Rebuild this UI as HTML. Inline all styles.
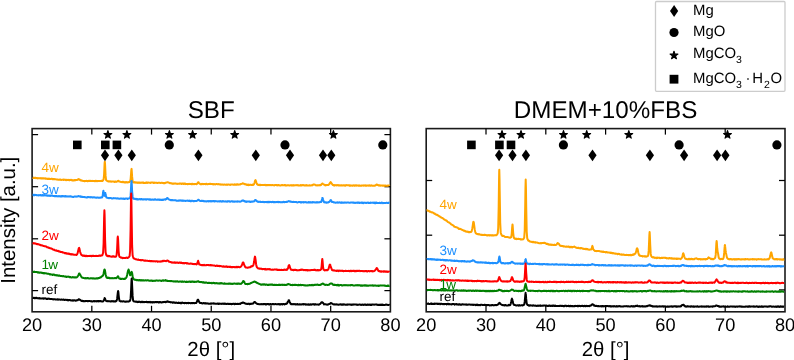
<!DOCTYPE html>
<html><head><meta charset="utf-8"><title>XRD</title><style>
html,body{margin:0;padding:0;background:#fff;}
body{width:794px;height:360px;overflow:hidden;}
svg{display:block;}
text{font-family:"Liberation Sans",Arial,sans-serif;fill:#000;text-rendering:geometricPrecision;}
.tk{font-size:18.2px;}
.ax{font-size:20.4px;}
.ti{font-size:24.2px;}
.lg{font-size:14.9px;}
.sub{font-size:10.5px;}
.cl{font-size:13.5px;}
</style></head><body>
<svg width="794" height="360" viewBox="0 0 794 360">
<rect width="794" height="360" fill="#fff"/>
<rect x="655.5" y="1.5" width="129.5" height="89.8" rx="1" fill="#fff" stroke="#cccccc" stroke-width="1.3"/>
<polygon points="674.10,5.10 678.20,11.00 674.10,16.90 670.00,11.00" fill="#000"/>
<circle cx="674.00" cy="32.50" r="4.60" fill="#000"/>
<polygon points="674.00,51.30 674.92,54.13 677.90,54.13 675.49,55.88 676.41,58.72 674.00,56.97 671.59,58.72 672.51,55.88 670.10,54.13 673.08,54.13" fill="#000" stroke="#000" stroke-width="1.2" stroke-linejoin="round"/>
<rect x="669.60" y="74.80" width="8.80" height="8.80" fill="#000"/>
<text x="693" y="14.8" class="lg">Mg</text>
<text x="693" y="35.7" class="lg">MgO</text>
<text x="693" y="58.0" class="lg">MgCO<tspan class="sub" dy="4.7">3</tspan></text>
<text x="693" y="82.9" class="lg">MgCO<tspan class="sub" dy="4.7">3</tspan></text>
<text x="745.4" y="82.9" class="lg">&#183;</text>
<text x="752.3" y="82.9" class="lg">H</text>
<text x="764.1" y="87.6" class="lg sub">2</text>
<text x="770.5" y="82.9" class="lg">O</text>
<text x="211.25" y="118" text-anchor="middle" class="ti">SBF</text>
<text x="605.60" y="118" text-anchor="middle" class="ti">DMEM+10%FBS</text>
<text transform="translate(14.7,220.2) rotate(-90)" text-anchor="middle" class="ax">Intensity [a.u.]</text>
<rect x="32.10" y="128.60" width="358.30" height="183.20" fill="none" stroke="#1a1a1a" stroke-width="1.6"/>
<line x1="91.82" y1="311.80" x2="91.82" y2="305.80" stroke="#000" stroke-width="1.25"/>
<line x1="91.82" y1="128.60" x2="91.82" y2="134.60" stroke="#000" stroke-width="1.25"/>
<line x1="151.53" y1="311.80" x2="151.53" y2="305.80" stroke="#000" stroke-width="1.25"/>
<line x1="151.53" y1="128.60" x2="151.53" y2="134.60" stroke="#000" stroke-width="1.25"/>
<line x1="211.25" y1="311.80" x2="211.25" y2="305.80" stroke="#000" stroke-width="1.25"/>
<line x1="211.25" y1="128.60" x2="211.25" y2="134.60" stroke="#000" stroke-width="1.25"/>
<line x1="270.97" y1="311.80" x2="270.97" y2="305.80" stroke="#000" stroke-width="1.25"/>
<line x1="270.97" y1="128.60" x2="270.97" y2="134.60" stroke="#000" stroke-width="1.25"/>
<line x1="330.68" y1="311.80" x2="330.68" y2="305.80" stroke="#000" stroke-width="1.25"/>
<line x1="330.68" y1="128.60" x2="330.68" y2="134.60" stroke="#000" stroke-width="1.25"/>
<line x1="32.10" y1="134.60" x2="38.10" y2="134.60" stroke="#000" stroke-width="1.25"/>
<line x1="390.40" y1="134.60" x2="384.40" y2="134.60" stroke="#000" stroke-width="1.25"/>
<line x1="32.10" y1="186.70" x2="38.10" y2="186.70" stroke="#000" stroke-width="1.25"/>
<line x1="390.40" y1="186.70" x2="384.40" y2="186.70" stroke="#000" stroke-width="1.25"/>
<line x1="32.10" y1="238.80" x2="38.10" y2="238.80" stroke="#000" stroke-width="1.25"/>
<line x1="390.40" y1="238.80" x2="384.40" y2="238.80" stroke="#000" stroke-width="1.25"/>
<line x1="32.10" y1="290.60" x2="38.10" y2="290.60" stroke="#000" stroke-width="1.25"/>
<line x1="390.40" y1="290.60" x2="384.40" y2="290.60" stroke="#000" stroke-width="1.25"/>
<text x="32.10" y="330.9" text-anchor="middle" class="tk">20</text>
<text x="91.82" y="330.9" text-anchor="middle" class="tk">30</text>
<text x="151.53" y="330.9" text-anchor="middle" class="tk">40</text>
<text x="211.25" y="330.9" text-anchor="middle" class="tk">50</text>
<text x="270.97" y="330.9" text-anchor="middle" class="tk">60</text>
<text x="330.68" y="330.9" text-anchor="middle" class="tk">70</text>
<text x="390.40" y="330.9" text-anchor="middle" class="tk">80</text>
<text x="211.25" y="356" text-anchor="middle" class="ax">2&#952; [&#176;]</text>
<rect x="426.20" y="128.60" width="358.80" height="183.20" fill="none" stroke="#1a1a1a" stroke-width="1.6"/>
<line x1="486.00" y1="311.80" x2="486.00" y2="305.80" stroke="#000" stroke-width="1.25"/>
<line x1="486.00" y1="128.60" x2="486.00" y2="134.60" stroke="#000" stroke-width="1.25"/>
<line x1="545.80" y1="311.80" x2="545.80" y2="305.80" stroke="#000" stroke-width="1.25"/>
<line x1="545.80" y1="128.60" x2="545.80" y2="134.60" stroke="#000" stroke-width="1.25"/>
<line x1="605.60" y1="311.80" x2="605.60" y2="305.80" stroke="#000" stroke-width="1.25"/>
<line x1="605.60" y1="128.60" x2="605.60" y2="134.60" stroke="#000" stroke-width="1.25"/>
<line x1="665.40" y1="311.80" x2="665.40" y2="305.80" stroke="#000" stroke-width="1.25"/>
<line x1="665.40" y1="128.60" x2="665.40" y2="134.60" stroke="#000" stroke-width="1.25"/>
<line x1="725.20" y1="311.80" x2="725.20" y2="305.80" stroke="#000" stroke-width="1.25"/>
<line x1="725.20" y1="128.60" x2="725.20" y2="134.60" stroke="#000" stroke-width="1.25"/>
<line x1="426.20" y1="180.50" x2="432.20" y2="180.50" stroke="#000" stroke-width="1.25"/>
<line x1="785.00" y1="180.50" x2="779.00" y2="180.50" stroke="#000" stroke-width="1.25"/>
<line x1="426.20" y1="235.20" x2="432.20" y2="235.20" stroke="#000" stroke-width="1.25"/>
<line x1="785.00" y1="235.20" x2="779.00" y2="235.20" stroke="#000" stroke-width="1.25"/>
<line x1="426.20" y1="289.90" x2="432.20" y2="289.90" stroke="#000" stroke-width="1.25"/>
<line x1="785.00" y1="289.90" x2="779.00" y2="289.90" stroke="#000" stroke-width="1.25"/>
<text x="426.20" y="330.9" text-anchor="middle" class="tk">20</text>
<text x="486.00" y="330.9" text-anchor="middle" class="tk">30</text>
<text x="545.80" y="330.9" text-anchor="middle" class="tk">40</text>
<text x="605.60" y="330.9" text-anchor="middle" class="tk">50</text>
<text x="665.40" y="330.9" text-anchor="middle" class="tk">60</text>
<text x="725.20" y="330.9" text-anchor="middle" class="tk">70</text>
<text x="785.00" y="330.9" text-anchor="middle" class="tk">80</text>
<text x="605.60" y="356" text-anchor="middle" class="ax">2&#952; [&#176;]</text>
<polyline points="32.60,177.6 33.10,177.9 33.60,177.8 34.10,178.0 34.60,178.0 35.10,177.7 35.60,177.7 36.10,178.2 36.60,177.9 37.10,177.9 37.60,178.4 38.10,178.1 38.60,178.3 39.10,178.2 39.60,178.3 40.10,178.0 40.60,178.3 41.10,178.5 41.60,178.3 42.10,178.5 42.60,178.5 43.10,178.1 43.60,178.6 44.10,178.5 44.60,178.4 45.10,178.2 45.60,178.8 46.10,178.6 46.60,178.7 47.10,178.9 47.60,178.8 48.10,179.0 48.60,178.7 49.10,179.0 49.60,178.8 50.10,179.1 50.60,179.1 51.10,178.7 51.60,178.8 52.10,178.8 52.60,179.3 53.10,179.1 53.60,179.2 54.10,179.0 54.60,179.2 55.10,179.2 55.60,179.2 56.10,179.4 56.60,179.4 57.10,179.6 57.60,179.5 58.10,179.7 58.60,179.7 59.10,179.8 59.60,179.7 60.10,179.4 60.60,179.8 61.10,179.9 61.60,179.9 62.10,179.7 62.60,179.8 63.10,179.6 63.60,180.0 64.10,179.8 64.60,179.7 65.10,179.6 65.60,180.1 66.10,180.2 66.60,179.7 67.10,180.1 67.60,179.9 68.10,179.8 68.60,179.9 69.10,180.2 69.60,180.3 70.10,179.8 70.60,180.1 71.10,179.8 71.60,180.3 72.10,180.0 72.60,180.4 73.10,180.5 73.60,180.2 74.10,180.5 74.60,180.1 75.10,180.0 75.60,180.3 76.10,179.9 76.60,179.9 77.10,179.9 77.60,179.8 78.10,179.3 78.60,179.0 79.10,179.5 79.60,179.4 80.10,180.1 80.60,180.4 81.10,180.3 81.60,180.5 82.10,180.7 82.60,180.8 83.10,180.9 83.60,180.9 84.10,181.0 84.60,181.2 85.10,181.0 85.60,180.9 86.10,181.1 86.60,180.8 87.10,180.9 87.60,181.3 88.10,181.0 88.60,181.0 89.10,180.7 89.60,181.0 90.10,181.1 90.60,180.7 91.10,181.1 91.60,181.1 92.10,180.8 92.60,181.1 93.10,181.0 93.60,181.1 94.10,180.9 94.60,181.2 95.10,181.2 95.60,180.8 96.10,180.8 96.60,181.1 97.10,181.3 97.60,180.9 98.10,181.0 98.60,181.1 99.10,180.9 99.60,180.9 100.10,180.9 100.60,180.9 101.10,181.0 101.60,180.8 102.10,180.8 102.60,180.9 103.10,180.2 103.60,179.5 104.10,174.3 104.55,164.2 104.60,163.2 104.80,161.7 105.05,164.2 105.10,165.2 105.60,175.9 106.10,180.1 106.60,180.5 107.10,180.9 107.60,181.1 108.10,181.4 108.60,181.3 109.10,181.6 109.60,181.2 110.10,181.3 110.60,181.6 111.10,181.7 111.60,181.5 112.10,181.4 112.60,181.4 113.10,181.6 113.60,181.5 114.10,181.8 114.60,181.9 115.10,181.5 115.60,181.6 116.10,181.9 116.60,181.7 117.10,181.6 117.60,181.1 118.10,180.8 118.60,181.0 119.10,181.6 119.60,181.6 120.10,181.7 120.60,181.9 121.10,181.9 121.60,181.9 122.10,182.3 122.60,181.8 123.10,181.8 123.60,182.3 124.10,182.3 124.60,182.4 125.10,182.1 125.60,182.4 126.10,182.4 126.60,182.0 127.10,182.3 127.60,182.4 128.10,182.3 128.60,182.2 129.10,182.0 129.60,181.9 130.10,181.4 130.60,179.3 131.10,173.1 131.25,170.6 131.50,169.0 131.60,168.9 131.75,171.0 132.10,176.4 132.60,181.2 133.10,182.2 133.60,182.5 134.10,182.4 134.60,182.1 135.10,182.6 135.60,182.3 136.10,182.4 136.60,182.7 137.10,182.6 137.60,182.5 138.10,182.9 138.60,182.7 139.10,182.5 139.60,182.5 140.10,182.9 140.60,182.6 141.10,182.8 141.60,182.6 142.10,182.5 142.60,182.7 143.10,182.9 143.60,182.5 144.10,182.9 144.60,183.0 145.10,182.9 145.60,182.9 146.10,182.4 146.60,182.8 147.10,183.0 147.60,182.5 148.10,182.6 148.60,182.6 149.10,182.8 149.60,182.7 150.10,182.8 150.60,182.9 151.10,182.5 151.60,182.5 152.10,182.6 152.60,182.6 153.10,182.5 153.60,183.1 154.10,183.0 154.60,182.6 155.10,182.8 155.60,182.7 156.10,182.7 156.60,182.8 157.10,182.9 157.60,182.9 158.10,182.8 158.60,182.7 159.10,182.8 159.60,182.7 160.10,182.9 160.60,183.0 161.10,182.9 161.60,182.7 162.10,182.8 162.60,182.9 163.10,183.1 163.60,183.2 164.10,182.9 164.60,183.2 165.10,183.0 165.60,182.8 166.10,182.6 166.60,182.4 167.10,182.4 167.60,182.2 168.10,182.5 168.60,182.6 169.10,182.7 169.60,183.1 170.10,183.3 170.60,183.0 171.10,183.3 171.60,183.3 172.10,183.7 172.60,183.7 173.10,183.4 173.60,183.8 174.10,183.7 174.60,183.4 175.10,183.6 175.60,183.4 176.10,183.8 176.60,183.7 177.10,183.9 177.60,183.8 178.10,183.8 178.60,183.8 179.10,183.7 179.60,183.5 180.10,183.8 180.60,183.4 181.10,183.5 181.60,183.9 182.10,183.5 182.60,183.5 183.10,183.6 183.60,184.0 184.10,183.6 184.60,183.5 185.10,184.1 185.60,183.6 186.10,184.1 186.60,184.0 187.10,184.1 187.60,184.2 188.10,184.0 188.60,184.1 189.10,183.7 189.60,184.1 190.10,184.0 190.60,184.1 191.10,183.8 191.60,184.2 192.10,184.3 192.60,183.8 193.10,183.9 193.60,184.1 194.10,184.3 194.60,183.9 195.10,183.9 195.60,183.9 196.10,184.1 196.60,184.2 197.10,183.8 197.60,183.2 198.10,182.2 198.60,182.3 199.10,183.4 199.60,183.6 200.10,184.0 200.60,184.3 201.10,184.0 201.60,184.2 202.10,183.8 202.60,184.1 203.10,184.2 203.60,184.1 204.10,184.0 204.60,184.0 205.10,184.1 205.60,184.3 206.10,183.8 206.60,183.8 207.10,184.2 207.60,184.3 208.10,184.0 208.60,184.0 209.10,184.1 209.60,183.8 210.10,183.9 210.60,183.8 211.10,184.1 211.60,183.9 212.10,183.9 212.60,184.2 213.10,184.4 213.60,184.0 214.10,184.3 214.60,184.1 215.10,184.4 215.60,184.3 216.10,184.1 216.60,184.1 217.10,184.0 217.60,184.3 218.10,184.2 218.60,184.1 219.10,184.3 219.60,184.3 220.10,184.6 220.60,184.2 221.10,184.7 221.60,184.4 222.10,184.5 222.60,184.5 223.10,184.7 223.60,184.7 224.10,184.6 224.60,184.6 225.10,184.7 225.60,184.8 226.10,184.5 226.60,184.7 227.10,184.9 227.60,184.6 228.10,184.4 228.60,184.4 229.10,184.7 229.60,184.7 230.10,184.9 230.60,184.8 231.10,184.4 231.60,184.4 232.10,184.4 232.60,184.4 233.10,184.7 233.60,184.8 234.10,184.8 234.60,184.4 235.10,184.8 235.60,184.5 236.10,184.5 236.60,184.7 237.10,184.3 237.60,184.3 238.10,184.8 238.60,184.4 239.10,184.4 239.60,184.5 240.10,184.5 240.60,184.0 241.10,184.1 241.60,183.9 242.10,183.7 242.60,183.3 243.10,183.4 243.60,183.8 244.10,183.8 244.60,184.2 245.10,184.1 245.60,184.4 246.10,184.7 246.60,184.5 247.10,185.0 247.60,185.0 248.10,184.5 248.60,185.1 249.10,184.7 249.60,185.0 250.10,185.0 250.60,184.7 251.10,184.9 251.60,184.9 252.10,185.0 252.60,184.6 253.10,184.9 253.60,184.8 254.10,184.0 254.60,182.6 255.10,180.6 255.25,180.4 255.50,180.1 255.60,180.3 255.75,180.6 256.10,181.6 256.60,183.0 257.10,184.3 257.60,184.7 258.10,184.6 258.60,185.1 259.10,185.0 259.60,184.7 260.10,185.2 260.60,184.8 261.10,184.9 261.60,185.1 262.10,185.1 262.60,185.1 263.10,185.1 263.60,185.0 264.10,185.0 264.60,184.9 265.10,184.8 265.60,185.2 266.10,185.2 266.60,185.1 267.10,185.2 267.60,185.0 268.10,185.0 268.60,185.0 269.10,185.3 269.60,184.9 270.10,185.1 270.60,185.0 271.10,185.3 271.60,185.1 272.10,185.0 272.60,185.1 273.10,185.2 273.60,185.3 274.10,185.1 274.60,185.4 275.10,184.9 275.60,185.0 276.10,184.9 276.60,185.0 277.10,185.4 277.60,185.3 278.10,185.0 278.60,185.0 279.10,185.2 279.60,185.4 280.10,185.4 280.60,185.4 281.10,185.3 281.60,185.0 282.10,185.2 282.60,185.1 283.10,185.3 283.60,185.3 284.10,185.1 284.60,185.1 285.10,185.4 285.60,185.0 286.10,185.4 286.60,185.5 287.10,185.5 287.60,185.2 288.10,185.3 288.60,185.3 289.10,185.4 289.60,185.6 290.10,185.4 290.60,185.2 291.10,185.5 291.60,185.3 292.10,185.4 292.60,185.4 293.10,185.0 293.60,185.5 294.10,185.4 294.60,185.3 295.10,185.3 295.60,185.3 296.10,185.1 296.60,185.3 297.10,185.0 297.60,185.3 298.10,185.4 298.60,185.3 299.10,185.4 299.60,185.6 300.10,185.5 300.60,185.1 301.10,185.5 301.60,185.4 302.10,185.0 302.60,185.2 303.10,185.2 303.60,185.1 304.10,185.3 304.60,185.6 305.10,185.2 305.60,185.5 306.10,185.4 306.60,185.1 307.10,185.5 307.60,185.4 308.10,185.6 308.60,185.5 309.10,185.5 309.60,185.2 310.10,185.5 310.60,185.6 311.10,185.5 311.60,185.2 312.10,185.4 312.60,185.1 313.10,184.7 313.60,184.4 314.10,184.4 314.60,184.6 315.10,184.8 315.60,185.2 316.10,185.4 316.60,185.3 317.10,185.3 317.60,185.4 318.10,185.2 318.60,185.3 319.10,185.4 319.60,185.2 320.10,185.0 320.60,185.3 321.10,184.9 321.60,184.1 322.10,183.6 322.60,183.6 323.10,184.0 323.60,184.3 324.10,184.6 324.60,184.9 325.10,185.4 325.60,185.0 326.10,185.2 326.60,185.1 327.10,185.1 327.60,185.0 328.10,185.1 328.60,184.8 329.10,184.3 329.60,183.6 330.10,182.7 330.45,182.4 330.60,182.0 330.70,182.0 330.95,182.4 331.10,182.5 331.60,183.6 332.10,184.0 332.60,184.8 333.10,185.1 333.60,184.9 334.10,185.6 334.60,185.1 335.10,185.1 335.60,185.3 336.10,185.1 336.60,185.4 337.10,185.3 337.60,185.1 338.10,185.1 338.60,185.5 339.10,185.2 339.60,185.6 340.10,185.4 340.60,185.6 341.10,185.3 341.60,185.2 342.10,185.3 342.60,185.6 343.10,185.5 343.60,185.3 344.10,185.2 344.60,185.5 345.10,185.7 345.60,185.5 346.10,185.1 346.60,185.2 347.10,185.2 347.60,185.2 348.10,185.2 348.60,185.2 349.10,185.5 349.60,185.7 350.10,185.3 350.60,185.7 351.10,185.4 351.60,185.6 352.10,185.7 352.60,185.7 353.10,185.2 353.60,185.4 354.10,185.5 354.60,185.8 355.10,185.2 355.60,185.4 356.10,185.7 356.60,185.3 357.10,185.4 357.60,185.4 358.10,185.6 358.60,185.8 359.10,185.3 359.60,185.7 360.10,185.7 360.60,185.7 361.10,185.6 361.60,185.8 362.10,185.4 362.60,185.5 363.10,185.4 363.60,185.7 364.10,185.5 364.60,185.4 365.10,185.3 365.60,185.7 366.10,185.6 366.60,185.7 367.10,185.5 367.60,185.6 368.10,185.4 368.60,185.7 369.10,185.3 369.60,185.5 370.10,185.7 370.60,185.7 371.10,185.3 371.60,185.4 372.10,185.8 372.60,185.7 373.10,185.8 373.60,185.8 374.10,185.5 374.60,185.8 375.10,185.6 375.60,185.2 376.10,185.0 376.60,184.5 377.10,184.6 377.60,185.1 378.10,185.0 378.60,185.5 379.10,185.3 379.60,185.3 380.10,185.7 380.60,185.5 381.10,185.4 381.60,185.4 382.10,185.7 382.60,185.7 383.10,185.4 383.60,185.5 384.10,185.9 384.60,185.5 385.10,185.7 385.60,185.6 386.10,185.8 386.60,185.7 387.10,185.9 387.60,185.7 388.10,185.5 388.60,185.5 389.10,185.4 389.60,185.9" fill="none" stroke="#FFA500" stroke-width="2.00" stroke-linejoin="round" stroke-linecap="butt"/>
<polyline points="32.60,194.8 33.10,194.7 33.60,195.3 34.10,194.9 34.60,195.3 35.10,194.8 35.60,195.1 36.10,194.9 36.60,195.3 37.10,195.2 37.60,195.2 38.10,195.3 38.60,195.4 39.10,195.1 39.60,195.3 40.10,195.2 40.60,195.0 41.10,195.5 41.60,195.3 42.10,195.5 42.60,195.1 43.10,195.4 43.60,195.3 44.10,195.5 44.60,195.1 45.10,195.3 45.60,195.4 46.10,195.2 46.60,195.5 47.10,195.7 47.60,195.5 48.10,195.7 48.60,195.7 49.10,195.4 49.60,195.6 50.10,196.0 50.60,195.6 51.10,195.7 51.60,195.5 52.10,195.6 52.60,195.6 53.10,196.1 53.60,196.0 54.10,196.1 54.60,196.2 55.10,196.0 55.60,196.2 56.10,196.0 56.60,196.0 57.10,196.3 57.60,196.3 58.10,196.4 58.60,196.1 59.10,196.3 59.60,196.1 60.10,196.5 60.60,196.5 61.10,196.1 61.60,196.5 62.10,196.1 62.60,196.0 63.10,196.4 63.60,196.2 64.10,196.3 64.60,196.4 65.10,196.1 65.60,196.5 66.10,196.3 66.60,196.4 67.10,196.3 67.60,196.6 68.10,196.6 68.60,196.4 69.10,196.3 69.60,196.4 70.10,196.5 70.60,196.3 71.10,196.4 71.60,196.7 72.10,196.7 72.60,196.9 73.10,196.9 73.60,196.9 74.10,196.6 74.60,196.4 75.10,196.5 75.60,196.6 76.10,196.7 76.60,196.6 77.10,196.4 77.60,196.6 78.10,196.1 78.60,196.1 79.10,196.3 79.60,196.4 80.10,196.3 80.60,196.5 81.10,197.0 81.60,196.6 82.10,196.8 82.60,197.0 83.10,197.1 83.60,196.9 84.10,196.9 84.60,197.0 85.10,197.3 85.60,197.2 86.10,197.5 86.60,197.4 87.10,197.5 87.60,197.0 88.10,197.1 88.60,197.0 89.10,197.3 89.60,197.2 90.10,197.1 90.60,197.4 91.10,197.1 91.60,197.3 92.10,197.3 92.60,197.6 93.10,197.4 93.60,197.3 94.10,197.2 94.60,197.5 95.10,197.6 95.60,197.6 96.10,197.8 96.60,197.7 97.10,197.4 97.60,197.4 98.10,197.8 98.60,197.8 99.10,197.6 99.60,197.8 100.10,197.7 100.60,197.5 101.10,197.4 101.60,197.3 102.10,197.4 102.60,196.4 103.10,192.5 103.15,191.9 103.40,190.8 103.60,191.7 103.65,192.0 104.10,195.4 104.60,195.9 105.05,193.8 105.10,193.4 105.30,193.0 105.55,194.1 105.60,194.5 106.10,196.8 106.60,197.6 107.10,197.7 107.60,197.9 108.10,198.1 108.60,198.0 109.10,198.3 109.60,197.9 110.10,198.0 110.60,198.1 111.10,198.1 111.60,198.4 112.10,198.4 112.60,198.5 113.10,198.3 113.60,198.0 114.10,198.3 114.60,198.3 115.10,198.3 115.60,198.2 116.10,198.5 116.60,198.6 117.10,198.2 117.60,198.5 118.10,198.4 118.60,198.5 119.10,198.7 119.60,198.8 120.10,198.6 120.60,198.4 121.10,198.8 121.60,198.4 122.10,198.5 122.60,198.8 123.10,198.5 123.60,198.5 124.10,199.0 124.60,199.0 125.10,198.6 125.60,198.7 126.10,198.6 126.60,198.5 127.10,198.6 127.60,199.0 128.10,198.5 128.60,198.5 129.10,198.4 129.60,198.2 130.10,198.0 130.60,195.4 131.10,186.6 131.25,183.4 131.50,180.9 131.60,180.9 131.75,183.2 132.10,191.0 132.60,196.7 133.10,198.2 133.60,198.7 134.10,198.7 134.60,199.0 135.10,198.8 135.60,198.9 136.10,199.4 136.60,198.9 137.10,199.4 137.60,199.0 138.10,199.5 138.60,199.3 139.10,199.3 139.60,199.0 140.10,199.0 140.60,199.4 141.10,199.1 141.60,199.1 142.10,199.5 142.60,199.6 143.10,199.1 143.60,199.6 144.10,199.4 144.60,199.3 145.10,199.2 145.60,199.3 146.10,199.7 146.60,199.3 147.10,199.2 147.60,199.2 148.10,199.2 148.60,199.4 149.10,199.7 149.60,199.2 150.10,199.3 150.60,199.8 151.10,199.8 151.60,199.8 152.10,199.4 152.60,199.5 153.10,199.8 153.60,199.6 154.10,199.7 154.60,199.5 155.10,199.3 155.60,199.5 156.10,199.8 156.60,199.8 157.10,199.7 157.60,199.6 158.10,199.7 158.60,199.6 159.10,199.7 159.60,199.9 160.10,199.5 160.60,199.8 161.10,200.0 161.60,199.9 162.10,199.6 162.60,200.0 163.10,200.0 163.60,199.6 164.10,199.6 164.60,199.5 165.10,199.3 165.60,199.6 166.10,199.0 166.60,198.9 167.10,198.1 167.60,198.0 168.10,198.7 168.60,199.1 169.10,199.6 169.60,199.7 170.10,199.9 170.60,200.2 171.10,199.9 171.60,200.2 172.10,200.2 172.60,200.0 173.10,200.3 173.60,200.2 174.10,200.3 174.60,200.3 175.10,200.3 175.60,200.3 176.10,200.5 176.60,200.7 177.10,200.7 177.60,200.7 178.10,200.7 178.60,200.4 179.10,200.8 179.60,200.4 180.10,200.3 180.60,200.6 181.10,200.7 181.60,200.5 182.10,200.7 182.60,200.5 183.10,200.9 183.60,200.6 184.10,200.7 184.60,200.7 185.10,200.9 185.60,201.0 186.10,200.7 186.60,200.7 187.10,200.8 187.60,200.5 188.10,200.7 188.60,201.0 189.10,201.0 189.60,200.6 190.10,201.1 190.60,200.8 191.10,201.2 191.60,200.8 192.10,200.7 192.60,200.9 193.10,201.2 193.60,200.9 194.10,201.2 194.60,201.1 195.10,200.9 195.60,200.9 196.10,201.0 196.60,200.9 197.10,200.7 197.60,200.4 198.10,199.8 198.60,199.7 199.10,200.3 199.60,200.7 200.10,200.9 200.60,201.1 201.10,200.8 201.60,200.8 202.10,201.0 202.60,201.0 203.10,200.8 203.60,201.1 204.10,201.4 204.60,201.2 205.10,201.3 205.60,201.3 206.10,201.4 206.60,201.4 207.10,201.1 207.60,201.3 208.10,201.0 208.60,201.4 209.10,201.1 209.60,201.2 210.10,201.5 210.60,201.1 211.10,201.1 211.60,201.4 212.10,201.3 212.60,201.0 213.10,201.0 213.60,201.2 214.10,201.0 214.60,201.5 215.10,201.1 215.60,201.2 216.10,201.2 216.60,201.3 217.10,201.3 217.60,201.4 218.10,201.4 218.60,201.3 219.10,201.1 219.60,201.6 220.10,201.5 220.60,201.1 221.10,201.3 221.60,201.5 222.10,201.7 222.60,201.1 223.10,201.1 223.60,201.4 224.10,201.4 224.60,201.6 225.10,201.6 225.60,201.3 226.10,201.4 226.60,201.5 227.10,201.7 227.60,201.3 228.10,201.4 228.60,201.2 229.10,201.5 229.60,201.2 230.10,201.7 230.60,201.5 231.10,201.5 231.60,201.2 232.10,201.3 232.60,201.5 233.10,201.7 233.60,201.5 234.10,201.4 234.60,201.8 235.10,201.6 235.60,201.5 236.10,201.4 236.60,201.4 237.10,201.8 237.60,201.3 238.10,201.6 238.60,201.6 239.10,201.4 239.60,201.7 240.10,201.7 240.60,201.6 241.10,201.4 241.60,200.9 242.10,200.6 242.60,200.7 243.10,200.5 243.60,200.6 244.10,201.2 244.60,201.0 245.10,201.6 245.60,201.8 246.10,201.4 246.60,201.9 247.10,201.6 247.60,201.5 248.10,201.5 248.60,201.4 249.10,201.7 249.60,201.6 250.10,201.9 250.60,201.9 251.10,201.5 251.60,201.7 252.10,201.7 252.60,201.5 253.10,201.5 253.60,201.4 254.10,201.4 254.60,200.7 255.10,200.0 255.60,199.9 256.10,200.4 256.60,201.1 257.10,201.3 257.60,201.8 258.10,201.6 258.60,201.9 259.10,201.9 259.60,201.7 260.10,202.0 260.60,201.8 261.10,201.9 261.60,202.0 262.10,202.0 262.60,201.9 263.10,201.7 263.60,202.1 264.10,202.2 264.60,202.0 265.10,202.0 265.60,201.9 266.10,202.2 266.60,202.1 267.10,201.8 267.60,202.2 268.10,202.3 268.60,201.9 269.10,202.3 269.60,202.0 270.10,201.8 270.60,202.1 271.10,201.9 271.60,202.2 272.10,202.1 272.60,201.8 273.10,202.0 273.60,202.2 274.10,202.0 274.60,202.1 275.10,202.3 275.60,202.0 276.10,202.0 276.60,202.1 277.10,202.2 277.60,201.9 278.10,201.8 278.60,202.2 279.10,202.1 279.60,201.9 280.10,202.3 280.60,202.3 281.10,202.1 281.60,202.3 282.10,202.3 282.60,202.2 283.10,201.9 283.60,201.8 284.10,202.2 284.60,202.2 285.10,201.9 285.60,202.0 286.10,202.0 286.60,201.8 287.10,201.9 287.60,201.7 288.10,201.4 288.60,201.1 289.10,201.3 289.60,201.3 290.10,201.7 290.60,201.5 291.10,201.8 291.60,201.8 292.10,202.0 292.60,202.1 293.10,201.9 293.60,201.8 294.10,202.1 294.60,201.9 295.10,202.1 295.60,201.9 296.10,201.9 296.60,202.2 297.10,202.4 297.60,202.4 298.10,202.2 298.60,202.1 299.10,201.9 299.60,202.1 300.10,202.1 300.60,202.5 301.10,202.0 301.60,202.5 302.10,202.2 302.60,202.2 303.10,202.1 303.60,202.5 304.10,202.0 304.60,202.3 305.10,202.3 305.60,202.1 306.10,202.1 306.60,202.6 307.10,202.4 307.60,202.4 308.10,202.5 308.60,202.0 309.10,202.4 309.60,202.4 310.10,202.1 310.60,202.3 311.10,202.6 311.60,202.2 312.10,202.5 312.60,202.1 313.10,202.4 313.60,202.2 314.10,202.3 314.60,202.3 315.10,202.6 315.60,202.5 316.10,202.3 316.60,202.5 317.10,202.3 317.60,202.5 318.10,202.2 318.60,202.4 319.10,202.4 319.60,202.2 320.10,202.0 320.60,202.0 321.10,202.1 321.60,200.9 322.10,199.0 322.25,198.1 322.50,197.9 322.60,197.9 322.75,198.3 323.10,199.7 323.60,201.3 324.10,202.2 324.60,202.4 325.10,202.6 325.60,202.2 326.10,202.2 326.60,202.7 327.10,202.5 327.60,202.4 328.10,202.5 328.60,202.0 329.10,202.0 329.60,201.6 330.10,200.9 330.60,200.1 331.10,200.3 331.60,201.3 332.10,202.1 332.60,202.0 333.10,202.1 333.60,202.2 334.10,202.6 334.60,202.4 335.10,202.5 335.60,202.8 336.10,202.6 336.60,202.4 337.10,202.7 337.60,202.3 338.10,202.4 338.60,202.7 339.10,202.4 339.60,202.3 340.10,202.6 340.60,202.5 341.10,202.9 341.60,202.4 342.10,202.8 342.60,202.5 343.10,202.8 343.60,202.6 344.10,202.7 344.60,202.5 345.10,202.5 345.60,202.6 346.10,202.8 346.60,202.6 347.10,202.5 347.60,202.6 348.10,202.4 348.60,202.6 349.10,202.7 349.60,202.7 350.10,202.7 350.60,202.6 351.10,202.4 351.60,202.4 352.10,202.6 352.60,202.5 353.10,202.7 353.60,202.6 354.10,202.9 354.60,202.8 355.10,202.8 355.60,202.9 356.10,202.7 356.60,202.7 357.10,202.6 357.60,202.5 358.10,202.9 358.60,202.7 359.10,202.5 359.60,203.0 360.10,202.8 360.60,202.8 361.10,202.7 361.60,202.5 362.10,203.1 362.60,202.6 363.10,202.7 363.60,203.1 364.10,202.6 364.60,202.8 365.10,202.8 365.60,202.7 366.10,203.1 366.60,202.8 367.10,202.5 367.60,202.8 368.10,202.5 368.60,203.0 369.10,203.1 369.60,203.1 370.10,202.6 370.60,202.9 371.10,202.7 371.60,202.8 372.10,202.7 372.60,202.7 373.10,202.6 373.60,202.9 374.10,202.6 374.60,203.2 375.10,202.6 375.60,203.2 376.10,202.7 376.60,202.6 377.10,203.0 377.60,202.9 378.10,203.1 378.60,202.9 379.10,203.0 379.60,202.7 380.10,203.0 380.60,202.9 381.10,203.2 381.60,202.6 382.10,202.7 382.60,203.0 383.10,203.2 383.60,202.9 384.10,203.1 384.60,203.0 385.10,202.9 385.60,202.9 386.10,203.0 386.60,202.7 387.10,202.9 387.60,203.1 388.10,202.8 388.60,203.0 389.10,202.8 389.60,202.9" fill="none" stroke="#1E90FF" stroke-width="2.00" stroke-linejoin="round" stroke-linecap="butt"/>
<polyline points="32.60,243.0 33.10,243.2 33.60,243.5 34.10,243.3 34.60,243.3 35.10,243.5 35.60,243.5 36.10,243.7 36.60,244.1 37.10,244.2 37.60,244.1 38.10,244.2 38.60,244.3 39.10,244.5 39.60,244.8 40.10,244.8 40.60,245.3 41.10,245.3 41.60,245.3 42.10,245.5 42.60,245.4 43.10,245.9 43.60,246.1 44.10,246.0 44.60,246.3 45.10,246.2 45.60,246.4 46.10,246.5 46.60,246.7 47.10,247.2 47.60,247.4 48.10,247.6 48.60,247.4 49.10,248.0 49.60,248.0 50.10,248.2 50.60,248.4 51.10,248.6 51.60,248.6 52.10,248.9 52.60,249.3 53.10,249.5 53.60,249.8 54.10,249.6 54.60,250.2 55.10,250.3 55.60,250.4 56.10,250.7 56.60,250.4 57.10,250.9 57.60,251.1 58.10,250.8 58.60,251.2 59.10,251.6 59.60,251.3 60.10,251.8 60.60,252.0 61.10,251.9 61.60,251.9 62.10,252.0 62.60,252.6 63.10,252.5 63.60,252.6 64.10,252.8 64.60,253.2 65.10,252.9 65.60,252.9 66.10,253.6 66.60,253.3 67.10,253.4 67.60,253.8 68.10,253.5 68.60,253.5 69.10,254.1 69.60,253.8 70.10,253.9 70.60,254.4 71.10,254.0 71.60,254.5 72.10,254.3 72.60,254.3 73.10,254.4 73.60,254.7 74.10,254.7 74.60,254.7 75.10,254.8 75.60,254.7 76.10,255.0 76.60,254.9 77.10,254.3 77.60,253.2 78.10,251.0 78.60,248.9 78.85,248.1 79.10,247.8 79.35,248.7 79.60,249.4 80.10,251.7 80.60,253.4 81.10,254.4 81.60,255.1 82.10,255.2 82.60,255.8 83.10,255.5 83.60,255.6 84.10,256.0 84.60,255.6 85.10,256.1 85.60,255.7 86.10,256.0 86.60,255.7 87.10,256.2 87.60,255.9 88.10,255.9 88.60,256.1 89.10,256.1 89.60,255.9 90.10,255.8 90.60,256.1 91.10,255.7 91.60,256.2 92.10,255.9 92.60,255.8 93.10,255.9 93.60,255.8 94.10,255.9 94.60,256.0 95.10,255.9 95.60,255.9 96.10,255.8 96.60,255.9 97.10,256.1 97.60,255.9 98.10,256.0 98.60,255.8 99.10,255.6 99.60,255.6 100.10,255.9 100.60,255.7 101.10,255.5 101.60,255.4 102.10,255.4 102.60,254.6 103.10,252.8 103.60,243.5 104.10,218.9 104.15,216.7 104.40,210.2 104.60,214.5 104.65,216.7 105.10,239.8 105.60,252.3 106.10,254.5 106.60,255.6 107.10,255.4 107.60,256.1 108.10,255.8 108.60,256.3 109.10,256.0 109.60,256.0 110.10,256.3 110.60,256.6 111.10,256.6 111.60,256.7 112.10,256.7 112.60,256.2 113.10,256.4 113.60,256.3 114.10,256.8 114.60,256.6 115.10,256.8 115.60,256.7 116.10,256.5 116.60,255.0 117.10,249.1 117.55,239.0 117.60,237.8 117.80,236.6 118.05,238.8 118.10,239.8 118.60,251.1 119.10,255.6 119.60,257.0 120.10,257.0 120.60,257.3 121.10,257.8 121.60,257.5 122.10,257.9 122.60,258.2 123.10,257.8 123.60,258.1 124.10,258.1 124.60,258.0 125.10,258.1 125.60,258.1 126.10,257.6 126.60,257.7 127.10,257.9 127.60,258.1 128.10,257.5 128.60,257.5 129.10,256.8 129.60,256.2 130.10,251.0 130.60,228.9 130.95,202.8 131.10,194.8 131.20,193.5 131.45,202.9 131.60,214.1 132.10,245.4 132.60,255.2 133.10,257.1 133.60,258.3 134.10,258.5 134.60,258.7 135.10,259.0 135.60,259.3 136.10,259.2 136.60,259.4 137.10,259.7 137.60,259.8 138.10,259.6 138.60,259.6 139.10,260.1 139.60,260.1 140.10,260.1 140.60,260.0 141.10,260.4 141.60,260.1 142.10,260.1 142.60,260.1 143.10,260.3 143.60,260.5 144.10,260.4 144.60,260.8 145.10,260.6 145.60,260.6 146.10,260.7 146.60,260.8 147.10,260.8 147.60,260.8 148.10,260.9 148.60,260.9 149.10,261.1 149.60,260.8 150.10,261.2 150.60,260.9 151.10,261.3 151.60,260.9 152.10,261.2 152.60,261.2 153.10,261.4 153.60,261.2 154.10,261.2 154.60,261.2 155.10,261.5 155.60,261.5 156.10,261.2 156.60,261.3 157.10,261.3 157.60,261.8 158.10,261.5 158.60,261.6 159.10,261.4 159.60,261.6 160.10,261.7 160.60,261.6 161.10,261.2 161.60,261.4 162.10,261.4 162.60,260.9 163.10,261.2 163.60,260.8 164.10,260.7 164.60,261.0 165.10,261.1 165.60,261.1 166.10,261.2 166.60,260.8 167.10,260.6 167.60,260.4 168.10,260.9 168.60,261.2 169.10,261.7 169.60,261.8 170.10,261.9 170.60,262.0 171.10,262.2 171.60,262.2 172.10,262.7 172.60,262.6 173.10,262.4 173.60,262.7 174.10,262.7 174.60,262.3 175.10,262.8 175.60,262.5 176.10,262.9 176.60,262.4 177.10,262.5 177.60,262.5 178.10,262.9 178.60,262.9 179.10,262.7 179.60,262.5 180.10,262.6 180.60,262.9 181.10,262.5 181.60,263.1 182.10,263.1 182.60,263.2 183.10,263.1 183.60,263.1 184.10,263.4 184.60,263.0 185.10,263.0 185.60,263.0 186.10,263.1 186.60,263.5 187.10,263.1 187.60,263.5 188.10,263.4 188.60,263.7 189.10,263.7 189.60,263.7 190.10,263.8 190.60,263.4 191.10,263.6 191.60,263.7 192.10,263.8 192.60,264.0 193.10,264.1 193.60,264.1 194.10,264.2 194.60,264.1 195.10,264.0 195.60,264.1 196.10,264.3 196.60,264.4 197.10,263.8 197.60,262.4 197.85,261.5 198.10,260.8 198.35,261.8 198.60,262.3 199.10,264.3 199.60,264.6 200.10,264.6 200.60,264.9 201.10,264.9 201.60,265.2 202.10,265.1 202.60,265.0 203.10,265.2 203.60,265.2 204.10,264.8 204.60,265.2 205.10,265.2 205.60,265.3 206.10,265.2 206.60,265.0 207.10,264.9 207.60,265.1 208.10,264.9 208.60,265.2 209.10,265.1 209.60,265.3 210.10,265.0 210.60,265.0 211.10,265.4 211.60,265.3 212.10,265.2 212.60,265.4 213.10,265.4 213.60,265.5 214.10,265.5 214.60,265.4 215.10,265.9 215.60,265.9 216.10,265.9 216.60,265.6 217.10,265.6 217.60,266.0 218.10,266.1 218.60,266.0 219.10,265.8 219.60,266.2 220.10,266.1 220.60,266.1 221.10,266.2 221.60,266.2 222.10,266.4 222.60,266.5 223.10,266.7 223.60,266.2 224.10,266.5 224.60,266.8 225.10,266.6 225.60,266.6 226.10,266.8 226.60,266.4 227.10,266.9 227.60,266.8 228.10,266.9 228.60,266.7 229.10,267.0 229.60,266.7 230.10,267.0 230.60,266.8 231.10,267.3 231.60,267.2 232.10,267.0 232.60,267.2 233.10,267.0 233.60,267.1 234.10,266.9 234.60,267.3 235.10,267.3 235.60,267.3 236.10,266.9 236.60,267.3 237.10,266.8 237.60,267.2 238.10,267.1 238.60,266.8 239.10,267.1 239.60,267.3 240.10,267.1 240.60,266.7 241.10,266.6 241.60,265.6 242.10,264.7 242.60,263.1 242.85,262.5 243.10,262.9 243.35,262.5 243.60,263.1 244.10,264.8 244.60,265.6 245.10,266.8 245.60,267.4 246.10,267.5 246.60,267.4 247.10,267.7 247.60,267.8 248.10,267.6 248.60,267.6 249.10,267.3 249.60,267.2 250.10,267.3 250.60,267.1 251.10,266.3 251.60,266.2 252.10,266.1 252.60,266.3 253.10,265.5 253.60,264.3 254.10,261.8 254.60,257.8 254.75,257.4 255.00,256.6 255.10,257.0 255.25,257.6 255.60,259.8 256.10,264.2 256.60,266.5 257.10,267.5 257.60,267.8 258.10,268.4 258.60,268.5 259.10,268.4 259.60,268.8 260.10,268.5 260.60,268.8 261.10,268.6 261.60,268.9 262.10,269.2 262.60,269.0 263.10,268.9 263.60,268.9 264.10,269.2 264.60,269.0 265.10,269.4 265.60,268.9 266.10,269.5 266.60,269.3 267.10,269.5 267.60,269.2 268.10,269.1 268.60,269.2 269.10,269.5 269.60,269.1 270.10,269.2 270.60,269.6 271.10,269.7 271.60,269.7 272.10,269.7 272.60,269.6 273.10,269.8 273.60,269.7 274.10,269.6 274.60,269.6 275.10,269.4 275.60,269.4 276.10,269.5 276.60,269.7 277.10,269.5 277.60,270.0 278.10,269.8 278.60,270.0 279.10,270.1 279.60,269.7 280.10,270.1 280.60,270.1 281.10,269.7 281.60,269.7 282.10,270.1 282.60,270.1 283.10,270.1 283.60,269.8 284.10,269.9 284.60,269.6 285.10,269.7 285.60,269.8 286.10,270.0 286.60,269.5 287.10,269.8 287.60,268.8 288.10,268.1 288.60,265.8 288.85,265.4 289.10,265.1 289.35,265.5 289.60,266.0 290.10,267.9 290.60,268.9 291.10,269.8 291.60,269.6 292.10,270.1 292.60,270.0 293.10,269.7 293.60,270.3 294.10,269.9 294.60,269.8 295.10,269.9 295.60,269.8 296.10,269.9 296.60,270.2 297.10,270.4 297.60,270.2 298.10,270.3 298.60,270.3 299.10,270.2 299.60,270.0 300.10,269.9 300.60,269.8 301.10,269.9 301.60,269.5 302.10,269.8 302.60,269.6 303.10,269.9 303.60,270.0 304.10,270.2 304.60,269.9 305.10,270.0 305.60,270.2 306.10,270.0 306.60,270.2 307.10,270.4 307.60,270.1 308.10,270.4 308.60,270.2 309.10,270.4 309.60,270.2 310.10,270.3 310.60,270.2 311.10,270.0 311.60,270.1 312.10,270.1 312.60,270.0 313.10,270.0 313.60,270.0 314.10,269.8 314.60,270.0 315.10,269.7 315.60,270.2 316.10,270.2 316.60,270.4 317.10,269.9 317.60,270.0 318.10,270.5 318.60,270.1 319.10,270.3 319.60,270.2 320.10,270.0 320.60,269.9 321.10,269.4 321.60,266.6 322.05,260.8 322.10,260.4 322.30,259.0 322.55,260.9 322.60,261.4 323.10,267.5 323.60,269.8 324.10,269.8 324.60,270.4 325.10,270.3 325.60,270.1 326.10,270.2 326.60,270.0 327.10,270.0 327.60,270.2 328.10,269.6 328.60,268.7 329.10,266.7 329.60,264.9 329.75,264.8 330.00,264.6 330.10,264.8 330.25,264.7 330.60,266.0 331.10,267.7 331.60,268.9 332.10,270.1 332.60,270.0 333.10,270.5 333.60,270.3 334.10,270.3 334.60,270.6 335.10,270.7 335.60,270.8 336.10,270.6 336.60,271.0 337.10,270.9 337.60,270.6 338.10,270.5 338.60,271.1 339.10,270.8 339.60,270.6 340.10,270.7 340.60,271.0 341.10,270.7 341.60,270.8 342.10,271.0 342.60,270.8 343.10,271.0 343.60,271.2 344.10,271.1 344.60,271.0 345.10,271.0 345.60,270.8 346.10,271.0 346.60,271.0 347.10,271.0 347.60,270.9 348.10,271.1 348.60,270.8 349.10,271.1 349.60,271.2 350.10,270.7 350.60,270.8 351.10,271.2 351.60,270.7 352.10,271.1 352.60,271.0 353.10,270.7 353.60,271.0 354.10,270.7 354.60,271.2 355.10,270.8 355.60,271.2 356.10,271.2 356.60,270.8 357.10,270.9 357.60,270.8 358.10,271.1 358.60,270.7 359.10,270.7 359.60,270.8 360.10,271.2 360.60,270.9 361.10,270.9 361.60,271.0 362.10,271.1 362.60,271.0 363.10,271.3 363.60,271.0 364.10,271.1 364.60,271.3 365.10,271.0 365.60,270.9 366.10,271.3 366.60,271.0 367.10,271.4 367.60,271.4 368.10,271.1 368.60,271.1 369.10,270.9 369.60,271.4 370.10,271.2 370.60,271.1 371.10,271.0 371.60,271.1 372.10,271.4 372.60,271.0 373.10,271.2 373.60,271.3 374.10,271.1 374.60,270.9 375.10,270.4 375.60,269.6 376.10,269.0 376.45,268.5 376.60,268.2 376.70,268.0 376.95,268.6 377.10,268.3 377.60,269.2 378.10,270.4 378.60,271.1 379.10,271.2 379.60,271.1 380.10,271.6 380.60,271.2 381.10,271.3 381.60,271.7 382.10,271.6 382.60,271.6 383.10,271.3 383.60,271.7 384.10,271.5 384.60,271.3 385.10,271.7 385.60,271.8 386.10,271.3 386.60,271.6 387.10,271.9 387.60,271.5 388.10,271.5 388.60,271.8 389.10,271.6 389.60,272.0" fill="none" stroke="#FF0000" stroke-width="2.00" stroke-linejoin="round" stroke-linecap="butt"/>
<polyline points="32.60,271.8 33.10,271.9 33.60,271.9 34.10,271.6 34.60,272.0 35.10,272.0 35.60,272.0 36.10,272.1 36.60,272.0 37.10,272.0 37.60,272.5 38.10,272.3 38.60,272.2 39.10,272.8 39.60,272.6 40.10,272.7 40.60,272.6 41.10,272.6 41.60,272.7 42.10,273.1 42.60,272.8 43.10,273.3 43.60,273.0 44.10,273.4 44.60,273.0 45.10,273.3 45.60,273.2 46.10,273.3 46.60,273.6 47.10,273.6 47.60,273.8 48.10,273.7 48.60,273.8 49.10,273.9 49.60,274.4 50.10,274.0 50.60,274.3 51.10,274.6 51.60,274.5 52.10,274.4 52.60,275.0 53.10,274.5 53.60,274.6 54.10,274.6 54.60,275.0 55.10,275.3 55.60,275.1 56.10,275.1 56.60,275.5 57.10,275.2 57.60,275.2 58.10,275.7 58.60,275.4 59.10,275.7 59.60,275.6 60.10,275.9 60.60,276.1 61.10,276.0 61.60,275.9 62.10,276.2 62.60,276.3 63.10,276.0 63.60,276.2 64.10,276.4 64.60,276.5 65.10,276.5 65.60,276.7 66.10,276.5 66.60,277.0 67.10,276.7 67.60,276.7 68.10,276.6 68.60,276.7 69.10,276.8 69.60,277.3 70.10,277.0 70.60,277.1 71.10,277.4 71.60,277.5 72.10,277.4 72.60,277.1 73.10,277.2 73.60,277.4 74.10,277.3 74.60,277.4 75.10,277.3 75.60,277.3 76.10,277.6 76.60,277.4 77.10,277.0 77.60,276.5 78.10,275.7 78.60,274.7 79.10,273.5 79.15,273.9 79.40,273.6 79.60,273.6 79.65,274.0 80.10,274.6 80.60,275.5 81.10,276.3 81.60,277.2 82.10,277.6 82.60,277.8 83.10,277.7 83.60,278.1 84.10,278.0 84.60,278.3 85.10,278.2 85.60,278.1 86.10,278.5 86.60,278.2 87.10,278.1 87.60,278.2 88.10,278.1 88.60,278.3 89.10,278.6 89.60,278.6 90.10,278.5 90.60,278.2 91.10,278.3 91.60,278.3 92.10,278.4 92.60,278.6 93.10,278.2 93.60,278.5 94.10,278.5 94.60,278.6 95.10,278.7 95.60,278.4 96.10,278.5 96.60,278.3 97.10,278.4 97.60,278.4 98.10,278.0 98.60,278.2 99.10,278.1 99.60,277.7 100.10,277.5 100.60,277.6 101.10,277.0 101.60,276.5 102.10,276.3 102.60,276.1 103.10,275.2 103.60,273.4 104.10,270.8 104.35,269.6 104.60,269.5 104.85,270.1 105.10,271.1 105.60,274.4 106.10,276.3 106.60,277.6 107.10,277.9 107.60,277.6 108.10,278.0 108.60,277.8 109.10,277.7 109.60,278.2 110.10,278.2 110.60,278.2 111.10,278.1 111.60,278.3 112.10,278.1 112.60,278.2 113.10,278.2 113.60,278.3 114.10,278.3 114.60,278.0 115.10,277.9 115.60,278.2 116.10,278.2 116.60,278.0 117.10,277.7 117.60,276.5 118.10,276.2 118.60,277.4 119.10,278.4 119.60,278.4 120.10,278.9 120.60,278.5 121.10,279.1 121.60,278.9 122.10,278.8 122.60,278.7 123.10,279.0 123.60,278.9 124.10,279.0 124.60,278.5 125.10,278.9 125.60,278.4 126.10,277.8 126.60,276.9 127.10,275.0 127.60,272.6 128.10,270.4 128.25,270.1 128.50,269.5 128.60,269.7 128.75,270.3 129.10,271.0 129.60,273.2 130.10,275.2 130.60,275.0 131.10,273.5 131.45,272.3 131.60,272.2 131.70,271.9 131.95,272.7 132.10,272.9 132.60,276.2 133.10,277.9 133.60,279.2 134.10,279.4 134.60,279.8 135.10,279.7 135.60,279.9 136.10,279.8 136.60,280.2 137.10,280.2 137.60,279.9 138.10,280.2 138.60,280.4 139.10,280.0 139.60,280.0 140.10,280.5 140.60,280.5 141.10,280.0 141.60,280.4 142.10,280.5 142.60,280.2 143.10,280.5 143.60,280.2 144.10,280.5 144.60,280.4 145.10,280.4 145.60,280.2 146.10,280.5 146.60,280.6 147.10,280.3 147.60,280.2 148.10,280.3 148.60,280.4 149.10,280.8 149.60,280.7 150.10,280.8 150.60,280.7 151.10,280.4 151.60,280.5 152.10,280.9 152.60,280.8 153.10,280.9 153.60,280.8 154.10,280.8 154.60,280.8 155.10,280.9 155.60,280.6 156.10,280.4 156.60,280.6 157.10,280.4 157.60,280.6 158.10,280.8 158.60,280.6 159.10,280.6 159.60,280.5 160.10,280.6 160.60,280.7 161.10,280.8 161.60,281.0 162.10,280.4 162.60,280.5 163.10,280.3 163.60,280.8 164.10,280.5 164.60,280.4 165.10,280.5 165.60,280.1 166.10,280.8 166.60,280.6 167.10,280.9 167.60,280.8 168.10,281.1 168.60,280.9 169.10,280.9 169.60,280.9 170.10,281.2 170.60,281.1 171.10,281.0 171.60,281.1 172.10,281.3 172.60,281.2 173.10,281.3 173.60,281.5 174.10,281.4 174.60,281.5 175.10,281.2 175.60,281.6 176.10,281.7 176.60,281.4 177.10,281.2 177.60,281.2 178.10,281.7 178.60,281.7 179.10,281.7 179.60,281.6 180.10,281.6 180.60,281.4 181.10,281.7 181.60,281.9 182.10,281.4 182.60,281.7 183.10,281.9 183.60,281.7 184.10,281.6 184.60,281.5 185.10,281.8 185.60,281.9 186.10,281.9 186.60,281.6 187.10,281.9 187.60,281.9 188.10,281.7 188.60,281.9 189.10,281.7 189.60,281.6 190.10,281.5 190.60,281.9 191.10,281.9 191.60,281.5 192.10,281.5 192.60,281.7 193.10,281.6 193.60,281.9 194.10,281.6 194.60,281.9 195.10,281.9 195.60,281.7 196.10,282.0 196.60,281.7 197.10,281.5 197.60,281.5 198.10,281.2 198.60,281.3 199.10,282.0 199.60,282.1 200.10,282.0 200.60,282.1 201.10,282.2 201.60,282.1 202.10,282.0 202.60,282.3 203.10,282.6 203.60,282.1 204.10,282.7 204.60,282.4 205.10,282.8 205.60,282.7 206.10,282.4 206.60,282.4 207.10,282.9 207.60,283.0 208.10,282.9 208.60,282.8 209.10,282.8 209.60,283.0 210.10,283.1 210.60,283.1 211.10,282.8 211.60,283.2 212.10,283.3 212.60,283.1 213.10,282.7 213.60,282.9 214.10,283.2 214.60,283.1 215.10,283.4 215.60,283.2 216.10,283.3 216.60,283.0 217.10,283.2 217.60,283.4 218.10,283.5 218.60,283.5 219.10,283.2 219.60,283.3 220.10,283.6 220.60,283.1 221.10,283.1 221.60,283.2 222.10,283.6 222.60,283.4 223.10,283.6 223.60,283.7 224.10,283.7 224.60,283.3 225.10,283.7 225.60,283.8 226.10,283.7 226.60,283.8 227.10,283.8 227.60,283.7 228.10,283.9 228.60,283.7 229.10,283.4 229.60,283.5 230.10,283.9 230.60,283.6 231.10,283.7 231.60,283.9 232.10,283.8 232.60,283.9 233.10,283.7 233.60,283.7 234.10,283.5 234.60,283.6 235.10,283.6 235.60,283.8 236.10,283.8 236.60,283.5 237.10,283.9 237.60,283.5 238.10,283.7 238.60,283.5 239.10,283.8 239.60,283.6 240.10,284.0 240.60,283.7 241.10,283.9 241.60,283.4 242.10,282.8 242.60,282.3 243.10,281.2 243.25,281.1 243.50,281.1 243.60,281.3 243.75,281.3 244.10,281.4 244.60,282.6 245.10,283.7 245.60,284.1 246.10,284.0 246.60,283.9 247.10,284.0 247.60,284.2 248.10,283.8 248.60,284.1 249.10,283.7 249.60,283.8 250.10,283.6 250.60,283.1 251.10,283.1 251.60,282.9 252.10,282.4 252.60,282.3 253.10,282.1 253.60,282.1 254.10,281.6 254.60,281.5 255.10,281.8 255.60,282.0 256.10,282.2 256.60,282.8 257.10,282.7 257.60,283.2 258.10,283.5 258.60,283.5 259.10,283.9 259.60,284.1 260.10,284.2 260.60,284.5 261.10,284.7 261.60,284.7 262.10,284.3 262.60,284.4 263.10,284.8 263.60,284.3 264.10,284.3 264.60,284.3 265.10,284.9 265.60,284.6 266.10,284.6 266.60,284.4 267.10,284.9 267.60,285.0 268.10,284.8 268.60,285.0 269.10,284.8 269.60,284.6 270.10,284.6 270.60,284.7 271.10,284.6 271.60,284.7 272.10,284.5 272.60,284.5 273.10,285.1 273.60,285.1 274.10,285.0 274.60,284.8 275.10,284.8 275.60,284.9 276.10,285.1 276.60,284.8 277.10,284.9 277.60,284.9 278.10,285.1 278.60,284.8 279.10,284.6 279.60,284.8 280.10,285.1 280.60,284.7 281.10,285.0 281.60,284.7 282.10,284.8 282.60,285.0 283.10,284.7 283.60,284.9 284.10,285.0 284.60,284.8 285.10,285.0 285.60,285.1 286.10,284.7 286.60,284.9 287.10,284.7 287.60,284.3 288.10,284.1 288.60,284.0 289.10,284.3 289.60,284.5 290.10,284.5 290.60,284.9 291.10,285.0 291.60,284.9 292.10,285.2 292.60,284.8 293.10,285.0 293.60,285.0 294.10,285.0 294.60,284.8 295.10,285.1 295.60,284.7 296.10,285.0 296.60,284.9 297.10,285.1 297.60,285.2 298.10,285.3 298.60,284.8 299.10,285.2 299.60,285.0 300.10,285.0 300.60,284.8 301.10,285.3 301.60,285.0 302.10,285.0 302.60,285.1 303.10,285.1 303.60,285.2 304.10,285.2 304.60,285.4 305.10,285.3 305.60,285.5 306.10,285.6 306.60,285.6 307.10,285.2 307.60,285.4 308.10,285.4 308.60,285.3 309.10,285.1 309.60,285.0 310.10,285.3 310.60,285.2 311.10,285.0 311.60,285.2 312.10,284.8 312.60,285.2 313.10,285.2 313.60,285.2 314.10,284.7 314.60,285.0 315.10,285.0 315.60,284.7 316.10,284.9 316.60,284.7 317.10,284.7 317.60,284.6 318.10,284.7 318.60,285.1 319.10,284.9 319.60,285.0 320.10,285.0 320.60,284.4 321.10,284.6 321.60,284.3 322.10,283.8 322.60,283.5 323.10,283.6 323.60,284.1 324.10,284.4 324.60,284.5 325.10,284.9 325.60,284.9 326.10,284.7 326.60,284.7 327.10,284.9 327.60,285.0 328.10,284.9 328.60,284.7 329.10,284.7 329.60,284.3 330.10,283.7 330.60,283.6 331.10,283.5 331.60,283.5 332.10,283.7 332.60,284.2 333.10,284.7 333.60,284.9 334.10,284.8 334.60,285.0 335.10,284.7 335.60,285.1 336.10,285.0 336.60,285.2 337.10,285.3 337.60,284.8 338.10,285.4 338.60,284.9 339.10,285.4 339.60,285.4 340.10,284.9 340.60,285.0 341.10,284.9 341.60,285.4 342.10,285.3 342.60,285.4 343.10,285.3 343.60,285.1 344.10,285.3 344.60,285.1 345.10,285.1 345.60,285.2 346.10,285.3 346.60,285.1 347.10,285.3 347.60,285.3 348.10,285.4 348.60,285.2 349.10,285.2 349.60,285.3 350.10,285.2 350.60,285.4 351.10,285.0 351.60,285.1 352.10,285.0 352.60,285.2 353.10,285.5 353.60,285.4 354.10,285.4 354.60,285.6 355.10,285.5 355.60,285.2 356.10,285.2 356.60,285.4 357.10,285.2 357.60,285.4 358.10,285.1 358.60,285.3 359.10,285.5 359.60,285.2 360.10,285.2 360.60,285.6 361.10,285.2 361.60,285.7 362.10,285.5 362.60,285.7 363.10,285.5 363.60,285.4 364.10,285.3 364.60,285.2 365.10,285.7 365.60,285.3 366.10,285.2 366.60,285.7 367.10,285.5 367.60,285.5 368.10,285.8 368.60,285.7 369.10,285.4 369.60,285.4 370.10,285.6 370.60,285.6 371.10,285.4 371.60,285.4 372.10,285.6 372.60,285.3 373.10,285.8 373.60,285.7 374.10,285.4 374.60,285.6 375.10,285.7 375.60,285.4 376.10,285.6 376.60,285.8 377.10,285.6 377.60,285.8 378.10,285.5 378.60,285.9 379.10,285.8 379.60,285.7 380.10,285.4 380.60,285.6 381.10,285.4 381.60,285.6 382.10,285.5 382.60,285.5 383.10,285.6 383.60,285.5 384.10,285.6 384.60,285.7 385.10,285.5 385.60,285.8 386.10,286.0 386.60,285.9 387.10,286.0 387.60,285.5 388.10,285.9 388.60,285.6 389.10,286.0 389.60,285.8" fill="none" stroke="#008000" stroke-width="2.00" stroke-linejoin="round" stroke-linecap="butt"/>
<polyline points="32.60,298.0 33.10,298.1 33.60,297.7 34.10,297.7 34.60,298.2 35.10,298.2 35.60,298.0 36.10,297.8 36.60,297.8 37.10,298.3 37.60,298.3 38.10,298.1 38.60,298.3 39.10,298.5 39.60,298.0 40.10,298.5 40.60,298.6 41.10,298.6 41.60,298.6 42.10,298.4 42.60,298.5 43.10,298.3 43.60,298.7 44.10,298.6 44.60,298.5 45.10,298.3 45.60,298.4 46.10,298.6 46.60,299.0 47.10,298.7 47.60,299.0 48.10,298.6 48.60,298.7 49.10,298.7 49.60,298.8 50.10,299.1 50.60,298.9 51.10,298.9 51.60,299.1 52.10,299.0 52.60,299.3 53.10,299.3 53.60,299.4 54.10,299.2 54.60,299.2 55.10,299.2 55.60,299.6 56.10,299.6 56.60,299.4 57.10,299.4 57.60,299.2 58.10,299.7 58.60,299.6 59.10,299.5 59.60,299.4 60.10,299.6 60.60,299.8 61.10,299.5 61.60,299.6 62.10,299.7 62.60,299.8 63.10,299.5 63.60,299.6 64.10,299.8 64.60,300.0 65.10,299.9 65.60,299.7 66.10,299.8 66.60,299.9 67.10,300.2 67.60,299.9 68.10,300.4 68.60,300.0 69.10,300.0 69.60,299.9 70.10,300.3 70.60,300.3 71.10,300.5 71.60,300.5 72.10,300.4 72.60,300.2 73.10,300.7 73.60,300.3 74.10,300.3 74.60,300.3 75.10,300.6 75.60,300.7 76.10,300.5 76.60,300.4 77.10,300.1 77.60,300.3 78.10,300.0 78.60,299.3 79.10,299.2 79.60,299.6 80.10,300.0 80.60,300.0 81.10,300.8 81.60,300.9 82.10,301.0 82.60,300.8 83.10,301.2 83.60,301.0 84.10,301.1 84.60,301.3 85.10,301.3 85.60,300.9 86.10,300.9 86.60,300.9 87.10,300.9 87.60,301.3 88.10,301.2 88.60,301.1 89.10,301.1 89.60,301.1 90.10,301.1 90.60,301.3 91.10,301.1 91.60,301.4 92.10,301.4 92.60,301.4 93.10,301.3 93.60,301.0 94.10,301.2 94.60,301.4 95.10,301.1 95.60,301.3 96.10,301.1 96.60,301.4 97.10,301.1 97.60,301.2 98.10,301.4 98.60,301.0 99.10,301.0 99.60,301.2 100.10,301.2 100.60,301.0 101.10,301.2 101.60,301.4 102.10,301.5 102.60,301.5 103.10,301.3 103.60,300.6 104.10,299.8 104.55,298.5 104.60,298.1 104.80,298.3 105.05,298.4 105.10,298.8 105.60,300.3 106.10,300.9 106.60,301.1 107.10,301.3 107.60,301.1 108.10,301.0 108.60,301.3 109.10,301.2 109.60,301.2 110.10,301.5 110.60,301.5 111.10,301.3 111.60,301.1 112.10,301.5 112.60,301.2 113.10,301.1 113.60,301.5 114.10,301.6 114.60,301.2 115.10,301.3 115.60,301.5 116.10,301.1 116.60,300.7 117.10,298.9 117.60,294.4 117.85,292.3 118.10,291.1 118.35,291.9 118.60,294.8 119.10,299.0 119.60,300.9 120.10,301.1 120.60,301.4 121.10,301.4 121.60,301.2 122.10,301.5 122.60,301.6 123.10,301.2 123.60,301.2 124.10,301.4 124.60,301.6 125.10,301.8 125.60,301.5 126.10,301.7 126.60,301.6 127.10,301.4 127.60,301.4 128.10,301.7 128.60,301.4 129.10,301.3 129.60,301.2 130.10,300.4 130.60,298.4 131.10,290.2 131.45,281.5 131.60,279.2 131.70,278.4 131.95,281.5 132.10,285.1 132.60,295.9 133.10,300.4 133.60,301.3 134.10,301.4 134.60,301.5 135.10,301.5 135.60,301.7 136.10,301.7 136.60,301.6 137.10,302.1 137.60,301.8 138.10,301.7 138.60,302.0 139.10,301.6 139.60,301.8 140.10,302.0 140.60,302.2 141.10,301.9 141.60,301.7 142.10,302.3 142.60,301.7 143.10,302.0 143.60,302.0 144.10,302.3 144.60,301.9 145.10,301.9 145.60,301.9 146.10,302.0 146.60,301.8 147.10,302.3 147.60,302.1 148.10,302.2 148.60,302.0 149.10,302.2 149.60,302.3 150.10,301.9 150.60,302.4 151.10,302.0 151.60,302.3 152.10,302.4 152.60,302.1 153.10,302.4 153.60,302.1 154.10,302.1 154.60,302.4 155.10,302.2 155.60,301.9 156.10,302.0 156.60,302.2 157.10,302.1 157.60,301.9 158.10,302.4 158.60,302.1 159.10,302.5 159.60,302.1 160.10,302.0 160.60,302.2 161.10,302.4 161.60,302.5 162.10,302.3 162.60,302.1 163.10,302.2 163.60,302.1 164.10,302.1 164.60,301.9 165.10,301.8 165.60,302.3 166.10,302.1 166.60,301.6 167.10,301.8 167.60,301.3 168.10,301.8 168.60,301.8 169.10,302.0 169.60,301.9 170.10,302.1 170.60,302.4 171.10,302.2 171.60,302.2 172.10,302.3 172.60,302.8 173.10,302.4 173.60,302.3 174.10,302.7 174.60,302.4 175.10,302.6 175.60,302.9 176.10,302.6 176.60,302.7 177.10,303.0 177.60,303.0 178.10,303.0 178.60,302.6 179.10,303.1 179.60,302.9 180.10,302.7 180.60,303.2 181.10,302.7 181.60,303.2 182.10,302.6 182.60,302.7 183.10,302.9 183.60,303.0 184.10,303.0 184.60,303.2 185.10,302.8 185.60,303.1 186.10,302.9 186.60,303.3 187.10,303.1 187.60,303.1 188.10,302.8 188.60,303.3 189.10,302.9 189.60,302.9 190.10,303.0 190.60,303.3 191.10,303.0 191.60,303.1 192.10,303.2 192.60,303.0 193.10,302.9 193.60,303.1 194.10,303.2 194.60,303.2 195.10,302.9 195.60,303.1 196.10,303.0 196.60,302.4 197.10,301.1 197.60,299.9 197.75,300.2 198.00,299.9 198.10,299.7 198.25,300.1 198.60,300.6 199.10,301.8 199.60,302.5 200.10,303.1 200.60,303.1 201.10,303.1 201.60,303.1 202.10,303.4 202.60,303.5 203.10,303.2 203.60,303.1 204.10,303.2 204.60,303.5 205.10,303.3 205.60,303.1 206.10,303.6 206.60,303.4 207.10,303.2 207.60,303.6 208.10,303.5 208.60,303.7 209.10,303.7 209.60,303.7 210.10,303.7 210.60,303.4 211.10,303.7 211.60,303.5 212.10,303.6 212.60,303.4 213.10,303.6 213.60,303.3 214.10,303.8 214.60,303.4 215.10,303.6 215.60,303.8 216.10,303.8 216.60,303.8 217.10,303.6 217.60,303.4 218.10,303.9 218.60,303.5 219.10,303.9 219.60,303.6 220.10,303.7 220.60,303.7 221.10,303.7 221.60,303.9 222.10,303.8 222.60,303.5 223.10,303.8 223.60,303.5 224.10,304.0 224.60,303.6 225.10,303.7 225.60,303.9 226.10,303.7 226.60,304.1 227.10,304.0 227.60,303.7 228.10,303.8 228.60,304.0 229.10,303.9 229.60,304.0 230.10,303.8 230.60,303.9 231.10,304.0 231.60,304.2 232.10,303.8 232.60,304.1 233.10,303.8 233.60,303.8 234.10,303.8 234.60,304.2 235.10,303.7 235.60,303.8 236.10,304.0 236.60,304.1 237.10,304.1 237.60,303.7 238.10,303.9 238.60,304.1 239.10,303.7 239.60,303.7 240.10,304.0 240.60,303.4 241.10,303.2 241.60,303.0 242.10,303.0 242.60,302.4 243.10,302.4 243.60,302.6 244.10,303.2 244.60,303.0 245.10,303.4 245.60,303.7 246.10,304.0 246.60,303.7 247.10,303.9 247.60,304.0 248.10,303.7 248.60,303.9 249.10,303.7 249.60,304.3 250.10,303.7 250.60,303.8 251.10,304.0 251.60,303.7 252.10,303.8 252.60,303.5 253.10,303.6 253.60,302.9 254.10,302.3 254.60,301.9 255.10,302.2 255.60,302.7 256.10,303.1 256.60,303.5 257.10,303.7 257.60,304.1 258.10,303.9 258.60,304.1 259.10,304.3 259.60,304.3 260.10,304.1 260.60,304.3 261.10,304.3 261.60,304.0 262.10,304.1 262.60,304.3 263.10,304.1 263.60,304.1 264.10,304.2 264.60,303.9 265.10,304.0 265.60,304.5 266.10,304.0 266.60,304.4 267.10,303.9 267.60,304.1 268.10,304.2 268.60,304.1 269.10,304.5 269.60,304.5 270.10,304.1 270.60,304.0 271.10,304.5 271.60,304.4 272.10,304.2 272.60,304.0 273.10,303.9 273.60,304.3 274.10,304.3 274.60,304.2 275.10,304.1 275.60,304.1 276.10,304.2 276.60,304.2 277.10,304.3 277.60,304.2 278.10,304.1 278.60,304.1 279.10,304.3 279.60,304.5 280.10,304.1 280.60,304.4 281.10,304.3 281.60,304.1 282.10,304.0 282.60,304.4 283.10,304.0 283.60,304.0 284.10,304.0 284.60,304.4 285.10,304.1 285.60,303.8 286.10,303.9 286.60,303.8 287.10,303.3 287.60,302.1 288.10,301.3 288.45,300.6 288.60,300.2 288.70,300.2 288.95,300.3 289.10,300.4 289.60,301.9 290.10,302.8 290.60,303.8 291.10,304.2 291.60,304.0 292.10,304.1 292.60,304.2 293.10,304.3 293.60,304.0 294.10,304.2 294.60,304.2 295.10,304.1 295.60,304.5 296.10,304.5 296.60,304.3 297.10,304.1 297.60,304.5 298.10,304.3 298.60,304.6 299.10,304.5 299.60,304.2 300.10,304.5 300.60,304.4 301.10,304.3 301.60,304.6 302.10,304.3 302.60,304.2 303.10,304.1 303.60,304.5 304.10,304.3 304.60,304.2 305.10,304.1 305.60,304.6 306.10,304.3 306.60,304.6 307.10,304.7 307.60,304.6 308.10,304.3 308.60,304.7 309.10,304.5 309.60,304.6 310.10,304.7 310.60,304.3 311.10,304.4 311.60,304.7 312.10,304.3 312.60,304.2 313.10,304.2 313.60,304.5 314.10,304.3 314.60,304.7 315.10,304.1 315.60,304.4 316.10,304.6 316.60,304.5 317.10,304.6 317.60,304.5 318.10,304.6 318.60,304.7 319.10,304.5 319.60,304.3 320.10,303.9 320.60,303.5 321.10,302.7 321.60,302.2 322.10,302.2 322.60,302.5 323.10,303.1 323.60,303.5 324.10,304.4 324.60,304.2 325.10,304.3 325.60,304.3 326.10,304.4 326.60,304.6 327.10,304.7 327.60,304.5 328.10,304.6 328.60,304.2 329.10,304.1 329.60,303.8 330.10,303.8 330.60,302.9 331.10,302.9 331.60,303.4 332.10,303.5 332.60,303.8 333.10,304.2 333.60,304.4 334.10,304.4 334.60,304.3 335.10,304.4 335.60,304.4 336.10,304.3 336.60,304.5 337.10,304.4 337.60,304.4 338.10,304.8 338.60,304.8 339.10,304.5 339.60,304.6 340.10,304.3 340.60,304.3 341.10,304.6 341.60,304.8 342.10,304.3 342.60,304.6 343.10,304.8 343.60,304.3 344.10,304.6 344.60,304.4 345.10,304.7 345.60,304.8 346.10,304.8 346.60,304.8 347.10,304.4 347.60,304.7 348.10,304.6 348.60,304.5 349.10,304.4 349.60,304.6 350.10,304.6 350.60,304.6 351.10,304.9 351.60,304.5 352.10,304.8 352.60,304.4 353.10,304.7 353.60,304.6 354.10,304.6 354.60,304.6 355.10,304.4 355.60,304.5 356.10,304.6 356.60,304.5 357.10,304.9 357.60,304.8 358.10,304.7 358.60,304.8 359.10,304.5 359.60,304.4 360.10,304.4 360.60,304.9 361.10,304.7 361.60,305.0 362.10,304.6 362.60,304.6 363.10,304.8 363.60,304.9 364.10,304.6 364.60,304.7 365.10,304.6 365.60,304.5 366.10,304.9 366.60,304.9 367.10,304.7 367.60,304.5 368.10,304.9 368.60,304.7 369.10,304.9 369.60,304.7 370.10,304.5 370.60,304.9 371.10,304.5 371.60,305.0 372.10,304.5 372.60,304.6 373.10,304.4 373.60,304.6 374.10,304.8 374.60,304.5 375.10,304.5 375.60,304.5 376.10,304.4 376.60,304.7 377.10,304.6 377.60,304.9 378.10,304.9 378.60,304.8 379.10,305.0 379.60,305.0 380.10,304.6 380.60,304.9 381.10,304.9 381.60,304.6 382.10,304.9 382.60,304.5 383.10,304.9 383.60,305.0 384.10,304.9 384.60,304.9 385.10,304.9 385.60,304.7 386.10,304.5 386.60,304.7 387.10,304.7 387.60,305.0 388.10,305.0 388.60,305.1 389.10,304.7 389.60,305.0" fill="none" stroke="#000000" stroke-width="2.00" stroke-linejoin="round" stroke-linecap="butt"/>
<polyline points="426.70,210.6 427.20,210.2 427.70,210.7 428.20,210.7 428.70,210.9 429.20,211.3 429.70,211.7 430.20,211.6 430.70,211.9 431.20,212.2 431.70,212.4 432.20,212.3 432.70,212.6 433.20,212.7 433.70,213.1 434.20,213.7 434.70,213.5 435.20,214.1 435.70,214.3 436.20,214.7 436.70,214.9 437.20,214.7 437.70,215.1 438.20,215.7 438.70,215.9 439.20,216.4 439.70,216.2 440.20,217.0 440.70,217.0 441.20,217.6 441.70,217.8 442.20,217.9 442.70,218.3 443.20,218.4 443.70,219.2 444.20,219.5 444.70,219.7 445.20,220.0 445.70,220.3 446.20,220.5 446.70,220.7 447.20,221.3 447.70,221.9 448.20,222.2 448.70,222.5 449.20,222.5 449.70,223.0 450.20,223.3 450.70,223.8 451.20,224.4 451.70,224.6 452.20,224.9 452.70,225.2 453.20,225.4 453.70,225.8 454.20,226.6 454.70,226.8 455.20,226.9 455.70,227.2 456.20,227.2 456.70,227.3 457.20,227.6 457.70,227.8 458.20,228.2 458.70,228.9 459.20,228.8 459.70,228.8 460.20,229.0 460.70,229.1 461.20,229.3 461.70,229.6 462.20,229.9 462.70,230.0 463.20,230.3 463.70,230.7 464.20,230.6 464.70,230.8 465.20,231.4 465.70,231.3 466.20,231.6 466.70,231.5 467.20,231.9 467.70,231.6 468.20,231.8 468.70,232.2 469.20,232.0 469.70,232.2 470.20,232.0 470.70,231.9 471.20,231.9 471.70,231.1 472.20,228.9 472.70,225.8 473.20,222.3 473.25,222.0 473.50,221.8 473.70,222.3 473.75,222.2 474.20,225.3 474.70,229.4 475.20,231.9 475.70,233.0 476.20,233.6 476.70,233.7 477.20,234.1 477.70,234.1 478.20,234.4 478.70,234.1 479.20,234.1 479.70,234.6 480.20,234.5 480.70,234.8 481.20,234.8 481.70,234.9 482.20,234.7 482.70,235.1 483.20,235.0 483.70,234.9 484.20,234.8 484.70,234.8 485.20,235.0 485.70,235.0 486.20,235.1 486.70,235.3 487.20,235.5 487.70,235.3 488.20,235.3 488.70,235.0 489.20,235.4 489.70,235.3 490.20,235.5 490.70,235.2 491.20,235.4 491.70,235.3 492.20,235.5 492.70,235.3 493.20,235.5 493.70,235.5 494.20,235.3 494.70,235.2 495.20,235.3 495.70,235.1 496.20,235.3 496.70,235.0 497.20,234.3 497.70,233.3 498.20,228.0 498.70,206.1 499.05,179.5 499.20,171.4 499.30,169.8 499.55,179.7 499.70,190.9 500.20,222.6 500.70,232.4 501.20,234.3 501.70,235.1 502.20,235.8 502.70,236.0 503.20,235.8 503.70,236.1 504.20,236.2 504.70,236.8 505.20,236.9 505.70,237.1 506.20,236.9 506.70,236.9 507.20,236.9 507.70,237.1 508.20,237.2 508.70,237.4 509.20,237.4 509.70,237.7 510.20,237.8 510.70,237.4 511.20,237.1 511.70,233.8 512.20,226.9 512.25,226.5 512.50,224.4 512.70,225.6 512.75,226.7 513.20,233.0 513.70,237.1 514.20,238.3 514.70,238.7 515.20,238.6 515.70,239.0 516.20,238.6 516.70,239.2 517.20,238.9 517.70,239.0 518.20,238.8 518.70,238.8 519.20,239.1 519.70,238.9 520.20,239.3 520.70,239.5 521.20,239.2 521.70,239.5 522.20,239.4 522.70,239.3 523.20,239.3 523.70,238.7 524.20,237.6 524.70,230.8 525.20,206.0 525.45,188.3 525.70,179.5 525.95,188.2 526.20,206.4 526.70,231.6 527.20,238.1 527.70,239.6 528.20,240.5 528.70,240.7 529.20,240.8 529.70,241.5 530.20,241.6 530.70,241.7 531.20,241.8 531.70,241.9 532.20,241.8 532.70,242.2 533.20,242.2 533.70,241.9 534.20,242.4 534.70,242.3 535.20,242.1 535.70,242.7 536.20,242.4 536.70,242.6 537.20,242.5 537.70,242.8 538.20,242.9 538.70,243.1 539.20,243.3 539.70,243.3 540.20,243.2 540.70,243.1 541.20,243.4 541.70,242.9 542.20,242.9 542.70,243.1 543.20,242.9 543.70,243.0 544.20,242.8 544.70,243.0 545.20,243.1 545.70,243.5 546.20,243.5 546.70,244.0 547.20,243.8 547.70,244.0 548.20,244.4 548.70,244.3 549.20,244.8 549.70,244.6 550.20,244.4 550.70,244.8 551.20,245.0 551.70,244.6 552.20,244.8 552.70,244.8 553.20,245.1 553.70,245.1 554.20,244.6 554.70,244.8 555.20,245.1 555.70,244.9 556.20,244.8 556.70,244.5 557.20,243.6 557.70,243.0 558.20,243.4 558.70,243.6 559.20,244.5 559.70,245.2 560.20,245.7 560.70,246.0 561.20,245.7 561.70,246.1 562.20,245.9 562.70,246.2 563.20,246.5 563.70,246.3 564.20,246.3 564.70,246.6 565.20,246.6 565.70,246.8 566.20,246.6 566.70,246.5 567.20,246.8 567.70,246.7 568.20,246.5 568.70,246.6 569.20,247.2 569.70,247.0 570.20,246.7 570.70,247.2 571.20,247.2 571.70,246.8 572.20,247.4 572.70,246.9 573.20,246.9 573.70,246.8 574.20,246.6 574.70,246.7 575.20,247.1 575.70,247.4 576.20,247.8 576.70,247.8 577.20,248.0 577.70,247.9 578.20,247.8 578.70,247.8 579.20,248.2 579.70,248.3 580.20,248.0 580.70,248.4 581.20,248.2 581.70,248.1 582.20,248.4 582.70,248.8 583.20,248.6 583.70,248.9 584.20,249.0 584.70,249.0 585.20,248.8 585.70,249.2 586.20,248.8 586.70,249.2 587.20,249.0 587.70,249.2 588.20,249.6 588.70,249.6 589.20,249.8 589.70,249.6 590.20,249.6 590.70,249.5 591.20,249.4 591.70,248.5 592.15,246.4 592.20,246.5 592.40,245.9 592.65,246.8 592.70,246.6 593.20,249.2 593.70,249.9 594.20,250.3 594.70,250.8 595.20,251.0 595.70,251.0 596.20,250.9 596.70,251.2 597.20,250.9 597.70,251.1 598.20,251.1 598.70,251.1 599.20,251.1 599.70,251.2 600.20,251.5 600.70,251.6 601.20,251.5 601.70,251.7 602.20,251.6 602.70,251.9 603.20,251.5 603.70,252.0 604.20,252.1 604.70,252.0 605.20,252.1 605.70,252.4 606.20,252.0 606.70,252.0 607.20,252.3 607.70,252.5 608.20,252.5 608.70,252.5 609.20,252.6 609.70,252.7 610.20,253.0 610.70,252.6 611.20,253.0 611.70,252.7 612.20,253.3 612.70,253.0 613.20,253.4 613.70,253.2 614.20,253.4 614.70,253.4 615.20,253.8 615.70,253.6 616.20,253.7 616.70,253.7 617.20,253.7 617.70,254.2 618.20,253.9 618.70,253.8 619.20,253.9 619.70,254.3 620.20,254.5 620.70,254.4 621.20,254.7 621.70,254.3 622.20,254.8 622.70,254.8 623.20,254.5 623.70,254.5 624.20,254.8 624.70,254.9 625.20,255.0 625.70,255.1 626.20,254.8 626.70,254.9 627.20,255.0 627.70,254.9 628.20,255.1 628.70,255.2 629.20,255.0 629.70,254.9 630.20,255.3 630.70,254.9 631.20,255.3 631.70,255.2 632.20,254.9 632.70,254.6 633.20,254.9 633.70,254.2 634.20,254.4 634.70,254.0 635.20,253.7 635.70,252.7 636.20,251.5 636.70,249.0 636.95,248.4 637.20,248.3 637.45,248.7 637.70,249.5 638.20,252.3 638.70,254.2 639.20,255.3 639.70,255.7 640.20,255.6 640.70,255.9 641.20,255.9 641.70,256.0 642.20,256.0 642.70,256.5 643.20,256.2 643.70,256.2 644.20,256.5 644.70,256.3 645.20,256.3 645.70,256.5 646.20,256.7 646.70,256.4 647.20,256.3 647.70,256.1 648.20,255.4 648.70,250.9 649.20,239.2 649.35,235.3 649.60,232.0 649.70,232.7 649.85,235.6 650.20,244.6 650.70,253.9 651.20,256.0 651.70,256.8 652.20,257.1 652.70,257.4 653.20,257.1 653.70,257.3 654.20,257.6 654.70,257.9 655.20,257.7 655.70,257.9 656.20,257.8 656.70,258.1 657.20,257.5 657.70,258.0 658.20,257.7 658.70,257.7 659.20,257.9 659.70,257.8 660.20,258.2 660.70,258.1 661.20,258.0 661.70,257.8 662.20,257.8 662.70,257.9 663.20,257.8 663.70,257.8 664.20,257.8 664.70,257.8 665.20,257.9 665.70,257.8 666.20,257.9 666.70,258.4 667.20,258.3 667.70,258.2 668.20,258.5 668.70,258.5 669.20,258.0 669.70,258.0 670.20,258.2 670.70,258.4 671.20,258.7 671.70,258.1 672.20,258.6 672.70,258.7 673.20,258.4 673.70,258.7 674.20,258.8 674.70,258.4 675.20,258.7 675.70,258.7 676.20,258.9 676.70,258.5 677.20,258.9 677.70,258.5 678.20,258.5 678.70,258.8 679.20,258.8 679.70,258.8 680.20,258.7 680.70,259.1 681.20,258.6 681.70,258.1 682.20,256.8 682.70,255.2 683.05,253.5 683.20,253.7 683.30,253.2 683.55,254.0 683.70,254.2 684.20,256.3 684.70,257.6 685.20,258.7 685.70,258.6 686.20,259.0 686.70,259.0 687.20,259.2 687.70,259.3 688.20,259.2 688.70,258.8 689.20,259.2 689.70,258.8 690.20,259.2 690.70,259.3 691.20,258.8 691.70,258.8 692.20,259.3 692.70,259.0 693.20,259.2 693.70,259.2 694.20,259.2 694.70,258.7 695.20,258.6 695.70,258.5 696.20,258.4 696.70,258.3 697.20,258.9 697.70,258.9 698.20,259.3 698.70,259.1 699.20,259.2 699.70,258.9 700.20,259.0 700.70,259.5 701.20,259.2 701.70,259.4 702.20,259.2 702.70,259.4 703.20,259.3 703.70,259.0 704.20,259.1 704.70,259.3 705.20,259.0 705.70,259.5 706.20,258.9 706.70,259.1 707.20,259.1 707.70,258.6 708.20,257.8 708.70,257.4 709.20,257.9 709.70,258.2 710.20,258.4 710.70,258.7 711.20,259.2 711.70,258.8 712.20,259.0 712.70,259.3 713.20,258.9 713.70,259.2 714.20,258.6 714.70,258.4 715.20,257.7 715.70,254.9 716.20,246.1 716.35,243.4 716.60,241.0 716.70,241.2 716.85,242.5 717.20,248.2 717.65,251.7 717.70,252.3 717.90,252.6 718.15,253.9 718.20,254.5 718.70,257.5 719.20,258.6 719.70,258.8 720.20,259.2 720.70,259.2 721.20,258.8 721.70,258.9 722.20,259.2 722.70,259.1 723.20,258.8 723.70,257.3 724.20,252.7 724.65,246.9 724.70,245.9 724.90,245.0 725.15,246.1 725.20,246.9 725.70,251.8 725.95,253.0 726.20,254.0 726.45,255.1 726.70,256.6 727.20,258.0 727.70,258.6 728.20,259.1 728.70,259.1 729.20,259.4 729.70,259.2 730.20,258.9 730.70,259.2 731.20,259.1 731.70,259.4 732.20,259.5 732.70,259.5 733.20,259.0 733.70,259.3 734.20,259.1 734.70,259.6 735.20,259.1 735.70,259.4 736.20,259.4 736.70,259.1 737.20,259.4 737.70,259.1 738.20,259.1 738.70,259.2 739.20,259.1 739.70,259.3 740.20,259.4 740.70,259.6 741.20,259.2 741.70,259.3 742.20,259.4 742.70,259.2 743.20,259.2 743.70,259.3 744.20,259.5 744.70,259.3 745.20,259.5 745.70,259.1 746.20,259.2 746.70,259.2 747.20,259.2 747.70,259.1 748.20,259.3 748.70,259.5 749.20,259.4 749.70,259.6 750.20,259.2 750.70,259.2 751.20,259.2 751.70,259.3 752.20,259.1 752.70,259.5 753.20,259.3 753.70,259.1 754.20,259.4 754.70,259.3 755.20,259.2 755.70,259.2 756.20,259.5 756.70,259.7 757.20,259.4 757.70,259.2 758.20,259.1 758.70,259.2 759.20,259.2 759.70,259.3 760.20,259.3 760.70,259.2 761.20,259.1 761.70,259.6 762.20,259.6 762.70,259.5 763.20,259.6 763.70,259.4 764.20,259.5 764.70,259.3 765.20,259.4 765.70,259.5 766.20,259.4 766.70,259.5 767.20,259.3 767.70,259.1 768.20,259.4 768.70,259.3 769.20,258.7 769.70,257.9 770.20,256.1 770.70,253.8 770.95,252.8 771.20,252.4 771.45,252.8 771.70,253.9 772.20,256.2 772.70,258.4 773.20,258.6 773.70,258.8 774.20,259.4 774.70,259.2 775.20,259.4 775.70,259.2 776.20,259.0 776.70,259.0 777.20,259.6 777.70,259.1 778.20,259.3 778.70,259.2 779.20,259.4 779.70,259.3 780.20,259.6 780.70,259.2 781.20,259.4 781.70,259.7 782.20,259.4 782.70,259.7 783.20,259.1 783.70,259.6 784.20,259.3" fill="none" stroke="#FFA500" stroke-width="2.00" stroke-linejoin="round" stroke-linecap="butt"/>
<polyline points="426.70,259.3 427.20,259.1 427.70,258.9 428.20,259.2 428.70,258.9 429.20,259.2 429.70,259.3 430.20,259.0 430.70,259.0 431.20,259.5 431.70,259.1 432.20,259.5 432.70,259.3 433.20,259.2 433.70,259.6 434.20,259.4 434.70,259.3 435.20,259.8 435.70,259.8 436.20,259.5 436.70,259.9 437.20,259.4 437.70,259.9 438.20,259.8 438.70,259.6 439.20,259.7 439.70,259.7 440.20,259.9 440.70,259.8 441.20,259.9 441.70,260.0 442.20,259.9 442.70,259.7 443.20,260.0 443.70,260.3 444.20,259.9 444.70,260.0 445.20,260.4 445.70,260.0 446.20,260.5 446.70,260.1 447.20,260.1 447.70,260.4 448.20,260.6 448.70,260.4 449.20,260.3 449.70,260.2 450.20,260.2 450.70,260.6 451.20,260.7 451.70,260.5 452.20,260.6 452.70,260.8 453.20,260.8 453.70,260.8 454.20,261.0 454.70,260.6 455.20,261.1 455.70,260.9 456.20,260.7 456.70,261.0 457.20,260.8 457.70,260.9 458.20,261.2 458.70,261.2 459.20,261.1 459.70,261.3 460.20,261.3 460.70,261.1 461.20,260.9 461.70,261.5 462.20,261.0 462.70,261.2 463.20,261.0 463.70,261.3 464.20,261.5 464.70,261.1 465.20,261.4 465.70,261.4 466.20,261.6 466.70,261.7 467.20,261.6 467.70,261.3 468.20,261.5 468.70,261.6 469.20,261.4 469.70,261.8 470.20,261.5 470.70,261.3 471.20,261.1 471.70,261.0 472.20,260.8 472.70,260.2 473.20,260.5 473.70,260.6 474.20,260.8 474.70,261.3 475.20,261.8 475.70,261.9 476.20,262.3 476.70,262.2 477.20,262.4 477.70,262.3 478.20,262.3 478.70,262.5 479.20,262.5 479.70,262.5 480.20,262.2 480.70,262.3 481.20,262.6 481.70,262.2 482.20,262.4 482.70,262.7 483.20,262.4 483.70,262.6 484.20,262.5 484.70,262.7 485.20,262.9 485.70,262.4 486.20,262.7 486.70,263.0 487.20,262.8 487.70,263.1 488.20,262.7 488.70,262.9 489.20,262.7 489.70,263.2 490.20,263.0 490.70,263.2 491.20,263.1 491.70,262.9 492.20,263.2 492.70,262.8 493.20,263.3 493.70,263.2 494.20,262.9 494.70,263.1 495.20,263.0 495.70,263.0 496.20,263.3 496.70,263.0 497.20,263.0 497.70,262.6 498.20,262.0 498.70,260.2 499.15,257.1 499.20,257.2 499.40,256.4 499.65,257.4 499.70,257.5 500.20,261.1 500.70,262.4 501.20,262.7 501.70,263.2 502.20,263.2 502.70,263.0 503.20,263.0 503.70,263.2 504.20,263.5 504.70,263.4 505.20,263.3 505.70,263.4 506.20,263.2 506.70,263.3 507.20,263.1 507.70,263.5 508.20,263.1 508.70,263.4 509.20,263.1 509.70,263.1 510.20,263.3 510.70,263.0 511.20,262.2 511.70,261.9 512.20,261.7 512.70,262.1 513.20,262.8 513.70,262.9 514.20,263.1 514.70,263.6 515.20,263.4 515.70,263.8 516.20,263.4 516.70,263.4 517.20,263.4 517.70,263.8 518.20,263.6 518.70,263.5 519.20,263.4 519.70,263.7 520.20,263.4 520.70,263.9 521.20,263.5 521.70,263.8 522.20,263.9 522.70,263.5 523.20,263.7 523.70,263.7 524.20,263.4 524.70,262.4 525.20,260.7 525.35,259.6 525.60,259.3 525.70,259.1 525.85,259.8 526.20,261.7 526.70,263.0 527.20,263.7 527.70,263.6 528.20,263.7 528.70,263.7 529.20,264.1 529.70,263.7 530.20,263.6 530.70,263.9 531.20,264.0 531.70,264.0 532.20,263.9 532.70,263.8 533.20,264.1 533.70,263.8 534.20,263.8 534.70,263.8 535.20,263.7 535.70,263.8 536.20,264.1 536.70,264.0 537.20,264.0 537.70,263.9 538.20,263.9 538.70,264.2 539.20,264.4 539.70,263.9 540.20,264.2 540.70,264.4 541.20,264.2 541.70,264.4 542.20,264.0 542.70,264.4 543.20,264.0 543.70,264.0 544.20,264.0 544.70,263.9 545.20,264.4 545.70,264.2 546.20,264.2 546.70,264.4 547.20,264.1 547.70,264.5 548.20,264.1 548.70,264.6 549.20,264.6 549.70,264.3 550.20,264.6 550.70,264.6 551.20,264.6 551.70,264.3 552.20,264.3 552.70,264.3 553.20,264.4 553.70,264.5 554.20,264.7 554.70,264.4 555.20,264.5 555.70,264.3 556.20,264.5 556.70,264.2 557.20,264.5 557.70,264.6 558.20,264.6 558.70,264.8 559.20,264.6 559.70,264.4 560.20,264.8 560.70,264.5 561.20,264.4 561.70,264.6 562.20,264.7 562.70,264.5 563.20,264.5 563.70,264.4 564.20,264.7 564.70,264.6 565.20,264.9 565.70,264.5 566.20,264.8 566.70,264.5 567.20,264.6 567.70,264.5 568.20,264.8 568.70,264.9 569.20,264.7 569.70,265.0 570.20,265.0 570.70,265.0 571.20,264.9 571.70,264.8 572.20,264.8 572.70,265.0 573.20,264.7 573.70,264.7 574.20,265.2 574.70,265.1 575.20,265.0 575.70,265.1 576.20,264.6 576.70,265.0 577.20,264.9 577.70,264.8 578.20,264.8 578.70,265.0 579.20,265.2 579.70,265.1 580.20,264.7 580.70,265.0 581.20,264.8 581.70,264.8 582.20,264.7 582.70,265.0 583.20,264.8 583.70,264.9 584.20,265.0 584.70,265.2 585.20,264.9 585.70,265.0 586.20,265.1 586.70,265.2 587.20,265.2 587.70,264.8 588.20,265.2 588.70,264.7 589.20,265.0 589.70,265.1 590.20,265.1 590.70,264.7 591.20,264.7 591.70,264.6 592.20,264.0 592.70,264.5 593.20,264.6 593.70,264.4 594.20,264.7 594.70,264.9 595.20,265.3 595.70,265.3 596.20,264.9 596.70,265.1 597.20,264.9 597.70,264.9 598.20,265.0 598.70,265.4 599.20,265.4 599.70,265.0 600.20,265.3 600.70,265.3 601.20,265.2 601.70,265.4 602.20,265.0 602.70,265.1 603.20,265.0 603.70,265.5 604.20,265.4 604.70,265.2 605.20,265.0 605.70,265.5 606.20,265.4 606.70,265.5 607.20,265.6 607.70,265.4 608.20,265.3 608.70,265.5 609.20,265.1 609.70,265.5 610.20,265.2 610.70,265.3 611.20,265.6 611.70,265.1 612.20,265.3 612.70,265.6 613.20,265.3 613.70,265.6 614.20,265.5 614.70,265.2 615.20,265.4 615.70,265.3 616.20,265.5 616.70,265.5 617.20,265.4 617.70,265.2 618.20,265.7 618.70,265.3 619.20,265.5 619.70,265.7 620.20,265.4 620.70,265.2 621.20,265.5 621.70,265.2 622.20,265.3 622.70,265.3 623.20,265.3 623.70,265.6 624.20,265.7 624.70,265.5 625.20,265.8 625.70,265.3 626.20,265.4 626.70,265.4 627.20,265.6 627.70,265.7 628.20,265.4 628.70,265.5 629.20,265.5 629.70,265.5 630.20,265.3 630.70,265.8 631.20,265.3 631.70,265.6 632.20,265.5 632.70,265.6 633.20,265.8 633.70,265.8 634.20,265.9 634.70,265.7 635.20,265.5 635.70,265.4 636.20,265.5 636.70,265.9 637.20,265.6 637.70,265.6 638.20,265.6 638.70,265.6 639.20,265.5 639.70,265.6 640.20,265.7 640.70,265.7 641.20,265.5 641.70,265.5 642.20,265.5 642.70,265.7 643.20,265.8 643.70,266.0 644.20,265.7 644.70,265.8 645.20,265.9 645.70,265.8 646.20,265.8 646.70,265.5 647.20,265.7 647.70,265.6 648.20,265.0 648.70,264.8 649.20,264.2 649.70,264.2 650.20,264.6 650.70,265.1 651.20,265.4 651.70,265.5 652.20,266.0 652.70,265.9 653.20,265.7 653.70,265.6 654.20,266.0 654.70,266.2 655.20,266.0 655.70,266.0 656.20,266.2 656.70,266.1 657.20,265.7 657.70,265.9 658.20,265.9 658.70,266.0 659.20,265.8 659.70,266.1 660.20,266.1 660.70,265.9 661.20,266.1 661.70,265.9 662.20,266.1 662.70,266.0 663.20,266.3 663.70,266.0 664.20,265.7 664.70,265.7 665.20,266.1 665.70,265.8 666.20,266.2 666.70,266.0 667.20,265.9 667.70,266.0 668.20,266.2 668.70,266.0 669.20,266.0 669.70,266.0 670.20,266.1 670.70,266.0 671.20,266.1 671.70,266.0 672.20,265.9 672.70,265.8 673.20,266.0 673.70,265.8 674.20,265.8 674.70,265.8 675.20,265.9 675.70,266.3 676.20,266.0 676.70,265.9 677.20,266.0 677.70,266.0 678.20,265.7 678.70,266.2 679.20,266.0 679.70,266.3 680.20,266.0 680.70,265.7 681.20,266.0 681.70,265.3 682.20,265.2 682.70,265.1 683.20,265.1 683.70,265.2 684.20,265.8 684.70,265.5 685.20,265.8 685.70,265.7 686.20,265.9 686.70,265.8 687.20,266.0 687.70,265.9 688.20,266.2 688.70,266.3 689.20,265.9 689.70,266.0 690.20,266.1 690.70,266.4 691.20,265.8 691.70,266.2 692.20,266.0 692.70,266.1 693.20,266.2 693.70,266.2 694.20,266.0 694.70,266.3 695.20,266.1 695.70,265.9 696.20,265.9 696.70,265.9 697.20,266.3 697.70,266.3 698.20,265.9 698.70,266.1 699.20,265.8 699.70,265.8 700.20,266.2 700.70,266.1 701.20,266.1 701.70,266.1 702.20,266.1 702.70,266.0 703.20,266.0 703.70,266.4 704.20,265.8 704.70,266.2 705.20,265.9 705.70,266.0 706.20,265.8 706.70,265.9 707.20,266.2 707.70,265.8 708.20,266.1 708.70,266.2 709.20,266.1 709.70,265.9 710.20,266.1 710.70,266.0 711.20,266.3 711.70,266.3 712.20,266.1 712.70,266.2 713.20,266.0 713.70,266.3 714.20,266.1 714.70,266.1 715.20,265.5 715.70,265.6 716.20,265.5 716.70,265.5 717.20,265.7 717.70,265.5 718.20,265.6 718.70,266.0 719.20,265.8 719.70,266.3 720.20,266.3 720.70,266.1 721.20,266.2 721.70,266.1 722.20,266.2 722.70,265.9 723.20,265.6 723.70,265.8 724.20,265.2 724.70,264.9 725.20,265.3 725.70,265.4 726.20,265.7 726.70,265.6 727.20,266.2 727.70,266.2 728.20,266.2 728.70,265.8 729.20,266.3 729.70,266.1 730.20,265.9 730.70,266.0 731.20,266.4 731.70,266.0 732.20,266.1 732.70,266.4 733.20,266.3 733.70,266.1 734.20,266.1 734.70,266.2 735.20,266.2 735.70,266.3 736.20,266.3 736.70,266.0 737.20,266.4 737.70,266.4 738.20,266.2 738.70,266.0 739.20,266.2 739.70,266.4 740.20,266.1 740.70,266.1 741.20,266.3 741.70,266.3 742.20,266.4 742.70,266.1 743.20,266.3 743.70,266.0 744.20,265.9 744.70,266.3 745.20,266.0 745.70,266.4 746.20,266.1 746.70,266.1 747.20,266.4 747.70,265.9 748.20,266.5 748.70,266.1 749.20,265.9 749.70,266.1 750.20,266.0 750.70,266.1 751.20,266.2 751.70,266.3 752.20,266.0 752.70,266.5 753.20,266.0 753.70,266.0 754.20,266.1 754.70,265.9 755.20,266.5 755.70,266.0 756.20,265.9 756.70,266.3 757.20,266.1 757.70,266.0 758.20,266.2 758.70,266.0 759.20,266.0 759.70,266.2 760.20,266.1 760.70,266.1 761.20,266.2 761.70,266.5 762.20,266.3 762.70,266.3 763.20,266.1 763.70,266.2 764.20,266.1 764.70,266.5 765.20,266.5 765.70,266.5 766.20,266.2 766.70,266.4 767.20,266.1 767.70,266.4 768.20,266.5 768.70,266.1 769.20,266.0 769.70,266.6 770.20,266.3 770.70,266.4 771.20,266.5 771.70,266.4 772.20,266.0 772.70,266.1 773.20,266.2 773.70,266.5 774.20,266.4 774.70,266.1 775.20,266.1 775.70,266.5 776.20,266.5 776.70,266.0 777.20,266.2 777.70,266.0 778.20,266.2 778.70,266.0 779.20,266.2 779.70,266.1 780.20,266.0 780.70,266.6 781.20,266.1 781.70,266.5 782.20,266.4 782.70,266.2 783.20,266.2 783.70,266.2 784.20,266.2" fill="none" stroke="#1E90FF" stroke-width="2.00" stroke-linejoin="round" stroke-linecap="butt"/>
<polyline points="426.70,279.6 427.20,279.4 427.70,279.7 428.20,279.6 428.70,279.5 429.20,279.9 429.70,279.5 430.20,279.8 430.70,279.8 431.20,279.9 431.70,279.8 432.20,279.7 432.70,279.7 433.20,279.9 433.70,279.5 434.20,279.8 434.70,280.0 435.20,279.8 435.70,279.8 436.20,280.0 436.70,280.0 437.20,279.8 437.70,280.0 438.20,280.1 438.70,280.0 439.20,279.8 439.70,280.3 440.20,279.9 440.70,280.1 441.20,279.7 441.70,280.1 442.20,280.1 442.70,280.3 443.20,279.9 443.70,279.8 444.20,280.0 444.70,280.1 445.20,280.2 445.70,280.0 446.20,280.3 446.70,280.4 447.20,279.9 447.70,280.5 448.20,279.9 448.70,280.1 449.20,280.0 449.70,280.4 450.20,280.5 450.70,280.1 451.20,280.3 451.70,280.6 452.20,280.5 452.70,280.2 453.20,280.3 453.70,280.6 454.20,280.6 454.70,280.4 455.20,280.5 455.70,280.2 456.20,280.4 456.70,280.6 457.20,280.2 457.70,280.3 458.20,280.5 458.70,280.2 459.20,280.3 459.70,280.7 460.20,280.4 460.70,280.6 461.20,280.8 461.70,280.6 462.20,280.7 462.70,280.4 463.20,280.6 463.70,280.7 464.20,280.7 464.70,280.7 465.20,280.4 465.70,280.8 466.20,280.6 466.70,280.9 467.20,280.6 467.70,281.0 468.20,280.8 468.70,281.0 469.20,280.8 469.70,280.7 470.20,280.8 470.70,280.7 471.20,280.9 471.70,280.8 472.20,280.7 472.70,281.2 473.20,281.2 473.70,280.9 474.20,281.0 474.70,281.2 475.20,281.1 475.70,280.9 476.20,281.0 476.70,281.2 477.20,280.8 477.70,281.0 478.20,280.8 478.70,281.1 479.20,280.8 479.70,281.1 480.20,280.9 480.70,281.0 481.20,281.4 481.70,281.0 482.20,281.1 482.70,281.4 483.20,281.0 483.70,281.0 484.20,281.2 484.70,281.3 485.20,281.1 485.70,281.1 486.20,281.0 486.70,281.2 487.20,281.2 487.70,281.4 488.20,281.2 488.70,281.4 489.20,281.5 489.70,281.2 490.20,281.5 490.70,281.5 491.20,281.6 491.70,281.5 492.20,281.5 492.70,281.5 493.20,281.3 493.70,281.6 494.20,281.2 494.70,281.3 495.20,281.2 495.70,281.4 496.20,281.6 496.70,281.4 497.20,280.9 497.70,281.1 498.20,279.9 498.70,278.5 499.15,277.4 499.20,277.1 499.40,277.4 499.65,277.6 499.70,277.8 500.20,279.1 500.70,280.3 501.20,280.9 501.70,281.2 502.20,281.4 502.70,281.6 503.20,281.3 503.70,281.5 504.20,281.6 504.70,281.3 505.20,281.6 505.70,281.4 506.20,281.4 506.70,281.3 507.20,281.8 507.70,281.2 508.20,281.4 508.70,281.5 509.20,281.4 509.70,281.2 510.20,281.1 510.70,280.4 511.20,279.1 511.70,277.5 511.75,277.2 512.00,277.2 512.20,277.2 512.25,277.6 512.70,278.6 513.20,280.4 513.70,280.9 514.20,281.5 514.70,281.8 515.20,281.4 515.70,281.7 516.20,281.6 516.70,281.3 517.20,281.7 517.70,281.5 518.20,281.4 518.70,281.8 519.20,281.8 519.70,281.9 520.20,281.4 520.70,281.5 521.20,281.7 521.70,281.5 522.20,281.3 522.70,281.4 523.20,281.3 523.70,281.2 524.20,280.5 524.70,277.3 525.20,268.7 525.35,266.0 525.60,263.4 525.70,264.0 525.85,266.1 526.20,272.9 526.70,279.4 527.20,281.2 527.70,281.3 528.20,281.7 528.70,281.8 529.20,281.6 529.70,281.9 530.20,281.7 530.70,281.8 531.20,281.6 531.70,281.9 532.20,281.7 532.70,281.8 533.20,281.8 533.70,282.0 534.20,282.1 534.70,282.1 535.20,282.0 535.70,281.7 536.20,281.9 536.70,282.0 537.20,281.8 537.70,282.1 538.20,281.8 538.70,281.9 539.20,282.2 539.70,281.8 540.20,281.9 540.70,282.2 541.20,282.2 541.70,281.9 542.20,282.1 542.70,282.0 543.20,281.7 543.70,282.2 544.20,282.2 544.70,282.2 545.20,281.8 545.70,282.0 546.20,282.2 546.70,282.2 547.20,282.2 547.70,281.7 548.20,282.1 548.70,281.9 549.20,281.8 549.70,282.0 550.20,281.7 550.70,281.9 551.20,281.9 551.70,281.9 552.20,281.9 552.70,282.0 553.20,282.0 553.70,281.8 554.20,281.8 554.70,281.9 555.20,281.7 555.70,282.0 556.20,282.2 556.70,281.8 557.20,282.2 557.70,281.9 558.20,281.9 558.70,282.1 559.20,281.9 559.70,281.9 560.20,282.2 560.70,281.7 561.20,281.9 561.70,281.8 562.20,281.9 562.70,282.0 563.20,282.0 563.70,281.8 564.20,282.2 564.70,282.2 565.20,282.1 565.70,282.0 566.20,282.1 566.70,281.6 567.20,282.0 567.70,281.9 568.20,281.8 568.70,282.0 569.20,281.8 569.70,282.1 570.20,281.7 570.70,281.8 571.20,281.9 571.70,281.7 572.20,281.7 572.70,282.0 573.20,281.8 573.70,281.7 574.20,282.1 574.70,282.2 575.20,282.0 575.70,282.0 576.20,281.8 576.70,282.2 577.20,282.1 577.70,282.1 578.20,282.0 578.70,281.8 579.20,282.0 579.70,281.9 580.20,282.1 580.70,281.8 581.20,281.8 581.70,282.0 582.20,281.8 582.70,281.8 583.20,282.0 583.70,282.0 584.20,282.2 584.70,282.3 585.20,282.0 585.70,282.1 586.20,282.0 586.70,282.1 587.20,281.9 587.70,282.2 588.20,282.0 588.70,281.8 589.20,281.9 589.70,282.1 590.20,281.5 590.70,281.9 591.20,281.4 591.70,280.8 592.20,280.2 592.70,280.2 593.20,280.6 593.70,281.3 594.20,281.6 594.70,281.8 595.20,281.9 595.70,282.0 596.20,281.9 596.70,282.0 597.20,282.2 597.70,281.8 598.20,282.4 598.70,281.8 599.20,282.1 599.70,282.0 600.20,282.2 600.70,282.0 601.20,282.2 601.70,281.9 602.20,282.4 602.70,282.4 603.20,282.4 603.70,282.3 604.20,282.0 604.70,282.3 605.20,282.3 605.70,282.4 606.20,282.2 606.70,282.4 607.20,282.1 607.70,281.9 608.20,282.0 608.70,282.5 609.20,282.1 609.70,282.0 610.20,282.1 610.70,282.5 611.20,282.4 611.70,282.2 612.20,282.0 612.70,282.5 613.20,282.0 613.70,282.4 614.20,282.2 614.70,282.2 615.20,282.0 615.70,282.4 616.20,282.5 616.70,282.3 617.20,282.5 617.70,282.1 618.20,282.2 618.70,282.3 619.20,282.1 619.70,282.6 620.20,282.4 620.70,282.0 621.20,282.4 621.70,282.1 622.20,282.3 622.70,282.6 623.20,282.3 623.70,282.2 624.20,282.6 624.70,282.2 625.20,282.7 625.70,282.1 626.20,282.1 626.70,282.7 627.20,282.5 627.70,282.4 628.20,282.6 628.70,282.3 629.20,282.6 629.70,282.3 630.20,282.6 630.70,282.4 631.20,282.7 631.70,282.7 632.20,282.6 632.70,282.2 633.20,282.4 633.70,282.7 634.20,282.4 634.70,282.3 635.20,282.5 635.70,282.3 636.20,282.2 636.70,282.5 637.20,282.2 637.70,282.4 638.20,282.4 638.70,282.7 639.20,282.4 639.70,282.5 640.20,282.6 640.70,282.3 641.20,282.5 641.70,282.3 642.20,282.5 642.70,282.7 643.20,282.8 643.70,282.8 644.20,282.7 644.70,282.2 645.20,282.5 645.70,282.4 646.20,282.4 646.70,282.4 647.20,282.5 647.70,281.8 648.20,281.7 648.70,280.7 649.20,280.5 649.70,280.5 650.20,280.9 650.70,281.7 651.20,282.4 651.70,282.6 652.20,282.4 652.70,282.6 653.20,282.6 653.70,282.6 654.20,282.6 654.70,282.3 655.20,282.5 655.70,282.4 656.20,282.9 656.70,282.8 657.20,282.4 657.70,282.7 658.20,282.9 658.70,282.8 659.20,282.8 659.70,282.7 660.20,282.6 660.70,282.6 661.20,282.4 661.70,282.6 662.20,282.5 662.70,282.7 663.20,282.6 663.70,282.6 664.20,283.0 664.70,282.5 665.20,282.6 665.70,282.9 666.20,282.6 666.70,282.4 667.20,282.7 667.70,282.6 668.20,282.9 668.70,282.6 669.20,282.6 669.70,282.7 670.20,282.8 670.70,282.5 671.20,282.5 671.70,282.9 672.20,282.6 672.70,283.0 673.20,282.9 673.70,282.7 674.20,282.5 674.70,282.6 675.20,282.4 675.70,282.8 676.20,282.8 676.70,282.8 677.20,282.6 677.70,282.9 678.20,282.9 678.70,282.8 679.20,282.7 679.70,282.9 680.20,282.6 680.70,282.2 681.20,282.5 681.70,281.6 682.20,281.3 682.70,280.8 683.20,281.0 683.70,281.1 684.20,281.6 684.70,282.4 685.20,282.6 685.70,282.6 686.20,282.6 686.70,282.5 687.20,282.9 687.70,282.8 688.20,283.0 688.70,282.7 689.20,283.0 689.70,282.5 690.20,282.6 690.70,283.0 691.20,282.9 691.70,282.6 692.20,282.7 692.70,282.6 693.20,282.8 693.70,282.9 694.20,282.8 694.70,282.7 695.20,282.5 695.70,282.7 696.20,283.0 696.70,282.9 697.20,282.8 697.70,282.8 698.20,282.7 698.70,282.5 699.20,282.6 699.70,282.7 700.20,282.5 700.70,282.7 701.20,282.7 701.70,282.7 702.20,282.7 702.70,283.0 703.20,282.8 703.70,283.0 704.20,282.8 704.70,282.7 705.20,282.8 705.70,282.9 706.20,282.6 706.70,282.9 707.20,283.1 707.70,282.9 708.20,282.9 708.70,283.0 709.20,282.5 709.70,282.8 710.20,282.7 710.70,282.6 711.20,282.7 711.70,282.5 712.20,282.9 712.70,282.5 713.20,282.6 713.70,282.4 714.20,282.8 714.70,282.1 715.20,281.7 715.70,280.6 716.20,279.8 716.35,279.7 716.60,279.3 716.70,279.9 716.85,279.8 717.20,280.0 717.70,281.2 718.20,281.8 718.70,282.4 719.20,282.8 719.70,282.5 720.20,282.9 720.70,282.7 721.20,282.8 721.70,283.0 722.20,282.4 722.70,282.6 723.20,282.5 723.70,281.9 724.20,281.3 724.70,281.5 725.20,281.5 725.70,281.6 726.20,282.5 726.70,282.3 727.20,282.8 727.70,282.6 728.20,282.8 728.70,282.8 729.20,282.7 729.70,282.9 730.20,283.1 730.70,282.7 731.20,282.9 731.70,283.1 732.20,282.6 732.70,283.1 733.20,283.1 733.70,282.9 734.20,282.6 734.70,282.7 735.20,282.7 735.70,282.9 736.20,282.7 736.70,283.1 737.20,283.2 737.70,282.6 738.20,283.1 738.70,282.8 739.20,282.9 739.70,282.9 740.20,282.8 740.70,282.9 741.20,282.9 741.70,282.8 742.20,282.7 742.70,282.8 743.20,282.7 743.70,283.0 744.20,282.9 744.70,283.0 745.20,283.0 745.70,283.0 746.20,282.7 746.70,282.9 747.20,282.7 747.70,283.1 748.20,283.2 748.70,283.0 749.20,282.9 749.70,282.8 750.20,282.9 750.70,283.1 751.20,282.9 751.70,283.0 752.20,282.7 752.70,282.8 753.20,283.0 753.70,283.1 754.20,282.8 754.70,282.9 755.20,282.8 755.70,282.7 756.20,282.8 756.70,283.0 757.20,282.9 757.70,282.9 758.20,282.9 758.70,283.0 759.20,283.0 759.70,283.1 760.20,283.2 760.70,283.0 761.20,283.0 761.70,283.2 762.20,282.9 762.70,283.0 763.20,282.7 763.70,283.0 764.20,283.0 764.70,283.2 765.20,282.7 765.70,282.8 766.20,283.1 766.70,283.1 767.20,283.1 767.70,282.8 768.20,283.2 768.70,283.0 769.20,283.2 769.70,283.2 770.20,283.1 770.70,283.0 771.20,283.1 771.70,282.7 772.20,283.1 772.70,283.2 773.20,283.0 773.70,283.1 774.20,283.1 774.70,283.1 775.20,282.8 775.70,283.2 776.20,283.2 776.70,282.8 777.20,283.0 777.70,282.7 778.20,282.8 778.70,282.9 779.20,283.0 779.70,283.2 780.20,283.3 780.70,283.1 781.20,282.9 781.70,282.9 782.20,282.7 782.70,283.0 783.20,282.9 783.70,283.0 784.20,282.9" fill="none" stroke="#FF0000" stroke-width="2.00" stroke-linejoin="round" stroke-linecap="butt"/>
<polyline points="426.70,290.1 427.20,290.2 427.70,290.0 428.20,290.0 428.70,290.1 429.20,289.9 429.70,290.1 430.20,289.8 430.70,289.9 431.20,290.0 431.70,290.1 432.20,290.0 432.70,290.3 433.20,290.0 433.70,290.3 434.20,290.2 434.70,289.9 435.20,290.0 435.70,290.3 436.20,290.2 436.70,290.2 437.20,290.4 437.70,290.0 438.20,290.0 438.70,290.5 439.20,290.1 439.70,290.3 440.20,290.1 440.70,290.0 441.20,290.4 441.70,290.4 442.20,290.1 442.70,290.0 443.20,290.4 443.70,290.1 444.20,290.4 444.70,290.1 445.20,290.6 445.70,290.1 446.20,290.2 446.70,290.1 447.20,290.4 447.70,290.5 448.20,290.1 448.70,290.4 449.20,290.6 449.70,290.3 450.20,290.5 450.70,290.5 451.20,290.3 451.70,290.6 452.20,290.6 452.70,290.4 453.20,290.2 453.70,290.2 454.20,290.6 454.70,290.5 455.20,290.5 455.70,290.4 456.20,290.2 456.70,290.3 457.20,290.2 457.70,290.7 458.20,290.8 458.70,290.5 459.20,290.6 459.70,290.6 460.20,290.8 460.70,290.8 461.20,290.3 461.70,290.8 462.20,290.6 462.70,290.5 463.20,290.7 463.70,290.3 464.20,290.8 464.70,290.8 465.20,290.4 465.70,290.5 466.20,290.9 466.70,290.9 467.20,290.7 467.70,290.9 468.20,290.4 468.70,290.6 469.20,290.9 469.70,290.4 470.20,290.6 470.70,290.5 471.20,290.8 471.70,291.0 472.20,290.7 472.70,290.9 473.20,290.5 473.70,290.7 474.20,291.0 474.70,291.0 475.20,290.6 475.70,290.6 476.20,290.6 476.70,291.0 477.20,290.6 477.70,290.7 478.20,290.7 478.70,290.8 479.20,291.0 479.70,290.8 480.20,291.0 480.70,290.8 481.20,291.1 481.70,290.8 482.20,290.9 482.70,290.8 483.20,290.8 483.70,290.7 484.20,291.1 484.70,290.8 485.20,291.2 485.70,291.0 486.20,290.7 486.70,291.2 487.20,291.2 487.70,291.0 488.20,290.8 488.70,291.2 489.20,290.8 489.70,291.2 490.20,291.2 490.70,290.7 491.20,290.9 491.70,291.3 492.20,291.2 492.70,290.8 493.20,290.9 493.70,291.2 494.20,290.7 494.70,290.8 495.20,291.1 495.70,290.9 496.20,291.0 496.70,290.8 497.20,290.8 497.70,290.7 498.20,290.5 498.70,289.7 499.20,289.8 499.70,290.0 500.20,290.3 500.70,290.1 501.20,290.7 501.70,290.6 502.20,291.2 502.70,290.8 503.20,291.2 503.70,290.9 504.20,291.2 504.70,290.7 505.20,291.0 505.70,291.0 506.20,290.9 506.70,290.8 507.20,291.1 507.70,290.7 508.20,291.1 508.70,291.2 509.20,291.1 509.70,290.9 510.20,290.6 510.70,290.4 511.20,289.9 511.70,289.6 512.20,289.7 512.70,289.7 513.20,290.0 513.70,290.7 514.20,291.0 514.70,291.0 515.20,290.7 515.70,290.7 516.20,290.7 516.70,291.0 517.20,291.1 517.70,290.9 518.20,290.7 518.70,291.2 519.20,291.1 519.70,290.7 520.20,291.1 520.70,291.2 521.20,290.8 521.70,290.9 522.20,290.5 522.70,290.7 523.20,290.5 523.70,290.6 524.20,289.6 524.70,287.3 525.20,285.1 525.35,284.2 525.60,283.7 525.70,284.0 525.85,284.6 526.20,286.2 526.70,288.3 527.20,289.8 527.70,290.5 528.20,290.7 528.70,290.9 529.20,290.8 529.70,290.7 530.20,290.8 530.70,291.0 531.20,290.7 531.70,290.7 532.20,290.8 532.70,290.8 533.20,290.7 533.70,291.0 534.20,291.0 534.70,290.9 535.20,291.2 535.70,290.9 536.20,291.0 536.70,291.1 537.20,291.1 537.70,291.2 538.20,290.7 538.70,290.7 539.20,290.7 539.70,290.8 540.20,290.9 540.70,291.0 541.20,291.2 541.70,291.2 542.20,291.0 542.70,291.0 543.20,291.0 543.70,290.8 544.20,290.8 544.70,290.9 545.20,290.8 545.70,291.1 546.20,290.8 546.70,291.3 547.20,290.9 547.70,291.1 548.20,290.9 548.70,290.8 549.20,291.0 549.70,291.0 550.20,291.3 550.70,290.8 551.20,290.7 551.70,290.7 552.20,291.2 552.70,290.7 553.20,291.3 553.70,290.8 554.20,291.2 554.70,290.9 555.20,291.2 555.70,291.0 556.20,290.9 556.70,290.7 557.20,290.9 557.70,291.0 558.20,291.3 558.70,291.0 559.20,291.2 559.70,291.0 560.20,291.1 560.70,291.1 561.20,290.8 561.70,291.1 562.20,291.1 562.70,290.9 563.20,290.8 563.70,290.8 564.20,290.9 564.70,291.3 565.20,291.0 565.70,290.8 566.20,291.0 566.70,291.1 567.20,291.2 567.70,290.8 568.20,291.0 568.70,290.7 569.20,290.9 569.70,291.0 570.20,290.8 570.70,290.8 571.20,291.2 571.70,290.8 572.20,291.2 572.70,290.8 573.20,290.8 573.70,290.8 574.20,291.2 574.70,290.8 575.20,290.8 575.70,291.1 576.20,291.0 576.70,291.2 577.20,290.9 577.70,290.7 578.20,291.1 578.70,291.0 579.20,291.0 579.70,290.8 580.20,291.3 580.70,291.2 581.20,290.9 581.70,291.0 582.20,290.8 582.70,291.3 583.20,290.8 583.70,291.0 584.20,290.9 584.70,291.0 585.20,291.1 585.70,290.9 586.20,291.1 586.70,291.1 587.20,290.9 587.70,291.3 588.20,291.0 588.70,291.1 589.20,291.3 589.70,290.9 590.20,290.6 590.70,290.6 591.20,290.4 591.70,290.3 592.20,290.6 592.70,290.5 593.20,290.3 593.70,290.6 594.20,290.7 594.70,290.7 595.20,290.8 595.70,290.7 596.20,291.3 596.70,291.0 597.20,291.1 597.70,291.3 598.20,291.1 598.70,291.1 599.20,291.2 599.70,291.1 600.20,291.0 600.70,291.3 601.20,290.9 601.70,291.1 602.20,290.9 602.70,291.1 603.20,290.9 603.70,291.1 604.20,291.0 604.70,291.2 605.20,291.0 605.70,290.9 606.20,291.2 606.70,291.1 607.20,291.3 607.70,291.2 608.20,290.8 608.70,291.2 609.20,290.8 609.70,291.4 610.20,291.2 610.70,291.2 611.20,291.1 611.70,290.9 612.20,291.0 612.70,291.0 613.20,290.9 613.70,291.4 614.20,291.0 614.70,291.2 615.20,291.0 615.70,291.4 616.20,290.9 616.70,291.4 617.20,291.0 617.70,291.0 618.20,291.1 618.70,291.0 619.20,290.9 619.70,291.3 620.20,290.9 620.70,291.0 621.20,290.9 621.70,290.9 622.20,291.1 622.70,291.2 623.20,290.9 623.70,291.1 624.20,291.1 624.70,291.5 625.20,291.5 625.70,291.2 626.20,291.3 626.70,290.9 627.20,291.2 627.70,291.4 628.20,291.4 628.70,291.3 629.20,291.4 629.70,291.5 630.20,291.3 630.70,291.0 631.20,291.3 631.70,291.0 632.20,291.4 632.70,291.0 633.20,291.4 633.70,291.3 634.20,291.3 634.70,291.0 635.20,291.2 635.70,291.2 636.20,291.5 636.70,291.3 637.20,291.4 637.70,291.5 638.20,291.2 638.70,291.3 639.20,291.3 639.70,291.2 640.20,291.1 640.70,291.1 641.20,291.0 641.70,291.5 642.20,291.1 642.70,291.4 643.20,291.1 643.70,291.1 644.20,290.9 644.70,291.2 645.20,291.0 645.70,291.1 646.20,291.3 646.70,291.4 647.20,290.8 647.70,291.1 648.20,291.0 648.70,290.8 649.20,290.7 649.70,290.6 650.20,290.6 650.70,290.5 651.20,290.8 651.70,291.2 652.20,291.1 652.70,291.2 653.20,291.3 653.70,291.2 654.20,291.1 654.70,291.1 655.20,291.5 655.70,291.2 656.20,291.4 656.70,291.4 657.20,291.2 657.70,291.2 658.20,291.3 658.70,291.3 659.20,291.3 659.70,291.1 660.20,291.3 660.70,291.4 661.20,291.2 661.70,291.3 662.20,291.5 662.70,291.4 663.20,291.4 663.70,291.1 664.20,291.4 664.70,291.5 665.20,291.1 665.70,291.1 666.20,291.5 666.70,291.3 667.20,291.5 667.70,291.1 668.20,291.6 668.70,291.4 669.20,291.2 669.70,291.4 670.20,291.3 670.70,291.2 671.20,291.6 671.70,291.0 672.20,291.2 672.70,291.5 673.20,291.6 673.70,291.1 674.20,291.6 674.70,291.1 675.20,291.2 675.70,291.5 676.20,291.1 676.70,291.2 677.20,291.3 677.70,291.3 678.20,291.2 678.70,291.2 679.20,291.3 679.70,291.2 680.20,291.3 680.70,290.9 681.20,290.8 681.70,291.0 682.20,290.8 682.70,290.7 683.20,290.7 683.70,290.4 684.20,290.6 684.70,291.3 685.20,291.2 685.70,291.2 686.20,291.4 686.70,291.1 687.20,291.6 687.70,291.5 688.20,291.2 688.70,291.5 689.20,291.4 689.70,291.2 690.20,291.1 690.70,291.2 691.20,291.4 691.70,291.3 692.20,291.6 692.70,291.3 693.20,291.4 693.70,291.6 694.20,291.5 694.70,291.5 695.20,291.6 695.70,291.5 696.20,291.6 696.70,291.5 697.20,291.2 697.70,291.5 698.20,291.5 698.70,291.5 699.20,291.3 699.70,291.1 700.20,291.4 700.70,291.6 701.20,291.6 701.70,291.5 702.20,291.4 702.70,291.2 703.20,291.2 703.70,291.6 704.20,291.1 704.70,291.4 705.20,291.3 705.70,291.3 706.20,291.7 706.70,291.1 707.20,291.5 707.70,291.5 708.20,291.1 708.70,291.2 709.20,291.3 709.70,291.2 710.20,291.3 710.70,291.6 711.20,291.7 711.70,291.4 712.20,291.4 712.70,291.4 713.20,291.2 713.70,291.3 714.20,291.1 714.70,291.1 715.20,290.9 715.70,290.7 716.20,290.6 716.70,290.6 717.20,290.6 717.70,290.8 718.20,291.0 718.70,291.2 719.20,291.0 719.70,291.4 720.20,291.5 720.70,291.2 721.20,291.7 721.70,291.5 722.20,291.6 722.70,291.4 723.20,291.7 723.70,291.3 724.20,291.5 724.70,291.5 725.20,291.3 725.70,291.4 726.20,291.7 726.70,291.2 727.20,291.6 727.70,291.2 728.20,291.5 728.70,291.6 729.20,291.5 729.70,291.7 730.20,291.6 730.70,291.2 731.20,291.3 731.70,291.6 732.20,291.6 732.70,291.5 733.20,291.2 733.70,291.3 734.20,291.4 734.70,291.5 735.20,291.6 735.70,291.3 736.20,291.6 736.70,291.6 737.20,291.4 737.70,291.7 738.20,291.3 738.70,291.7 739.20,291.3 739.70,291.6 740.20,291.5 740.70,291.4 741.20,291.7 741.70,291.4 742.20,291.7 742.70,291.5 743.20,291.2 743.70,291.4 744.20,291.3 744.70,291.3 745.20,291.2 745.70,291.6 746.20,291.5 746.70,291.6 747.20,291.4 747.70,291.2 748.20,291.7 748.70,291.7 749.20,291.7 749.70,291.5 750.20,291.4 750.70,291.8 751.20,291.3 751.70,291.5 752.20,291.3 752.70,291.4 753.20,291.8 753.70,291.8 754.20,291.5 754.70,291.3 755.20,291.5 755.70,291.8 756.20,291.7 756.70,291.3 757.20,291.4 757.70,291.5 758.20,291.3 758.70,291.5 759.20,291.6 759.70,291.4 760.20,291.7 760.70,291.8 761.20,291.4 761.70,291.6 762.20,291.7 762.70,291.3 763.20,291.6 763.70,291.6 764.20,291.8 764.70,291.6 765.20,291.8 765.70,291.7 766.20,291.3 766.70,291.7 767.20,291.6 767.70,291.6 768.20,291.6 768.70,291.6 769.20,291.5 769.70,291.5 770.20,291.8 770.70,291.4 771.20,291.5 771.70,291.5 772.20,291.3 772.70,291.3 773.20,291.6 773.70,291.9 774.20,291.6 774.70,291.4 775.20,291.3 775.70,291.4 776.20,291.8 776.70,291.5 777.20,291.8 777.70,291.6 778.20,291.3 778.70,291.8 779.20,291.6 779.70,291.3 780.20,291.8 780.70,291.7 781.20,291.3 781.70,291.5 782.20,291.5 782.70,291.4 783.20,291.7 783.70,291.8 784.20,291.7" fill="none" stroke="#008000" stroke-width="2.00" stroke-linejoin="round" stroke-linecap="butt"/>
<polyline points="426.70,303.4 427.20,303.9 427.70,303.7 428.20,303.4 428.70,303.9 429.20,303.9 429.70,303.9 430.20,304.0 430.70,303.7 431.20,303.4 431.70,304.0 432.20,303.8 432.70,304.0 433.20,304.1 433.70,303.9 434.20,303.5 434.70,304.0 435.20,303.6 435.70,303.8 436.20,303.8 436.70,303.6 437.20,303.8 437.70,304.0 438.20,303.7 438.70,304.0 439.20,303.7 439.70,303.7 440.20,304.2 440.70,303.8 441.20,303.7 441.70,304.0 442.20,304.0 442.70,304.0 443.20,304.3 443.70,303.9 444.20,304.1 444.70,304.2 445.20,303.9 445.70,304.1 446.20,304.0 446.70,304.4 447.20,303.8 447.70,303.9 448.20,304.3 448.70,303.9 449.20,304.3 449.70,304.1 450.20,304.3 450.70,304.3 451.20,304.3 451.70,304.5 452.20,304.0 452.70,304.0 453.20,304.1 453.70,304.0 454.20,304.2 454.70,304.6 455.20,304.1 455.70,304.3 456.20,304.1 456.70,304.5 457.20,304.3 457.70,304.4 458.20,304.7 458.70,304.3 459.20,304.5 459.70,304.3 460.20,304.7 460.70,304.7 461.20,304.4 461.70,304.7 462.20,304.3 462.70,304.2 463.20,304.5 463.70,304.4 464.20,304.4 464.70,304.4 465.20,304.4 465.70,304.5 466.20,304.7 466.70,304.4 467.20,304.7 467.70,304.8 468.20,304.6 468.70,304.4 469.20,304.5 469.70,304.5 470.20,304.6 470.70,304.8 471.20,304.8 471.70,304.7 472.20,304.5 472.70,304.8 473.20,305.0 473.70,304.8 474.20,304.8 474.70,304.8 475.20,304.8 475.70,305.1 476.20,304.6 476.70,304.8 477.20,305.1 477.70,304.6 478.20,305.2 478.70,304.9 479.20,304.9 479.70,305.2 480.20,305.2 480.70,304.7 481.20,304.8 481.70,304.7 482.20,304.9 482.70,305.0 483.20,304.9 483.70,305.1 484.20,304.8 484.70,304.8 485.20,305.0 485.70,305.0 486.20,305.0 486.70,305.2 487.20,305.2 487.70,304.9 488.20,304.9 488.70,304.9 489.20,305.3 489.70,305.4 490.20,305.4 490.70,305.2 491.20,305.4 491.70,305.2 492.20,304.9 492.70,304.9 493.20,305.4 493.70,305.2 494.20,305.3 494.70,305.1 495.20,305.1 495.70,305.0 496.20,305.2 496.70,305.1 497.20,305.0 497.70,304.7 498.20,304.4 498.70,303.3 499.20,303.3 499.70,302.9 500.20,303.7 500.70,304.2 501.20,304.5 501.70,304.8 502.20,304.9 502.70,305.2 503.20,305.0 503.70,305.3 504.20,305.3 504.70,305.5 505.20,305.1 505.70,305.1 506.20,305.4 506.70,305.4 507.20,305.5 507.70,305.5 508.20,305.4 508.70,304.9 509.20,305.2 509.70,305.2 510.20,305.0 510.70,303.8 511.20,301.8 511.70,299.2 511.75,299.1 512.00,298.6 512.20,299.1 512.25,299.1 512.70,301.6 513.20,303.4 513.70,304.7 514.20,304.9 514.70,305.1 515.20,305.1 515.70,305.3 516.20,305.5 516.70,305.4 517.20,305.4 517.70,305.2 518.20,305.3 518.70,305.6 519.20,305.1 519.70,305.5 520.20,305.6 520.70,305.4 521.20,305.3 521.70,305.2 522.20,305.4 522.70,305.4 523.20,305.0 523.70,304.9 524.20,304.6 524.70,301.7 525.20,296.4 525.35,294.5 525.60,292.8 525.70,293.5 525.85,294.3 526.20,298.9 526.70,303.4 527.20,304.6 527.70,305.1 528.20,305.1 528.70,305.5 529.20,305.7 529.70,305.2 530.20,305.3 530.70,305.5 531.20,305.6 531.70,305.5 532.20,305.6 532.70,305.8 533.20,305.3 533.70,305.4 534.20,305.6 534.70,305.7 535.20,305.7 535.70,305.6 536.20,305.8 536.70,305.9 537.20,305.8 537.70,305.5 538.20,305.9 538.70,305.7 539.20,305.8 539.70,305.8 540.20,305.4 540.70,305.9 541.20,305.8 541.70,305.8 542.20,305.8 542.70,305.6 543.20,305.7 543.70,305.6 544.20,305.6 544.70,305.6 545.20,305.6 545.70,305.9 546.20,305.7 546.70,305.5 547.20,305.9 547.70,305.9 548.20,306.0 548.70,305.8 549.20,305.4 549.70,305.5 550.20,306.0 550.70,305.9 551.20,305.7 551.70,306.0 552.20,305.5 552.70,306.0 553.20,305.6 553.70,305.5 554.20,306.0 554.70,306.0 555.20,305.5 555.70,305.9 556.20,306.1 556.70,306.1 557.20,305.9 557.70,306.1 558.20,306.0 558.70,305.9 559.20,306.1 559.70,305.7 560.20,305.7 560.70,305.8 561.20,306.1 561.70,305.7 562.20,305.8 562.70,305.9 563.20,306.2 563.70,305.9 564.20,306.2 564.70,305.7 565.20,305.9 565.70,305.7 566.20,305.8 566.70,306.2 567.20,305.9 567.70,305.9 568.20,306.0 568.70,305.7 569.20,306.3 569.70,306.1 570.20,306.3 570.70,305.8 571.20,306.1 571.70,306.2 572.20,306.1 572.70,306.0 573.20,306.2 573.70,306.3 574.20,306.1 574.70,306.2 575.20,305.8 575.70,306.1 576.20,306.1 576.70,305.9 577.20,306.2 577.70,305.8 578.20,306.2 578.70,306.0 579.20,305.8 579.70,305.9 580.20,306.2 580.70,306.0 581.20,306.1 581.70,306.0 582.20,305.8 582.70,306.0 583.20,306.0 583.70,306.2 584.20,305.9 584.70,305.8 585.20,306.3 585.70,306.2 586.20,305.8 586.70,305.9 587.20,306.2 587.70,305.9 588.20,305.9 588.70,306.1 589.20,306.2 589.70,306.1 590.20,305.5 590.70,305.5 591.20,305.5 591.70,304.7 592.20,304.3 592.70,304.3 593.20,304.7 593.70,304.8 594.20,305.7 594.70,305.6 595.20,305.9 595.70,305.9 596.20,305.8 596.70,305.9 597.20,306.1 597.70,306.2 598.20,306.1 598.70,306.1 599.20,306.3 599.70,306.2 600.20,306.2 600.70,306.2 601.20,306.0 601.70,306.4 602.20,306.0 602.70,306.0 603.20,306.4 603.70,306.1 604.20,306.3 604.70,306.2 605.20,306.0 605.70,306.1 606.20,306.1 606.70,306.2 607.20,306.1 607.70,305.9 608.20,306.0 608.70,306.3 609.20,306.2 609.70,306.1 610.20,306.4 610.70,306.1 611.20,306.5 611.70,306.5 612.20,306.3 612.70,306.2 613.20,306.5 613.70,306.3 614.20,306.0 614.70,306.3 615.20,306.5 615.70,306.4 616.20,306.4 616.70,306.1 617.20,306.5 617.70,306.4 618.20,306.2 618.70,306.4 619.20,306.2 619.70,306.1 620.20,306.3 620.70,306.5 621.20,306.4 621.70,306.5 622.20,306.6 622.70,306.5 623.20,306.6 623.70,306.3 624.20,306.2 624.70,306.2 625.20,306.2 625.70,306.2 626.20,306.3 626.70,306.1 627.20,306.3 627.70,306.4 628.20,306.2 628.70,306.2 629.20,306.6 629.70,306.5 630.20,306.5 630.70,306.4 631.20,306.1 631.70,306.2 632.20,306.5 632.70,306.5 633.20,306.1 633.70,306.4 634.20,306.4 634.70,306.4 635.20,305.9 635.70,306.2 636.20,305.9 636.70,306.1 637.20,305.5 637.70,306.0 638.20,306.3 638.70,306.3 639.20,306.1 639.70,306.2 640.20,306.6 640.70,306.4 641.20,306.3 641.70,306.3 642.20,306.4 642.70,306.1 643.20,306.3 643.70,306.6 644.20,306.6 644.70,306.2 645.20,306.5 645.70,306.6 646.20,306.1 646.70,306.2 647.20,306.2 647.70,305.8 648.20,305.8 648.70,305.6 649.20,305.2 649.70,305.5 650.20,305.7 650.70,305.5 651.20,306.0 651.70,305.9 652.20,306.4 652.70,306.1 653.20,306.3 653.70,306.6 654.20,306.5 654.70,306.4 655.20,306.2 655.70,306.6 656.20,306.5 656.70,306.3 657.20,306.7 657.70,306.6 658.20,306.6 658.70,306.4 659.20,306.6 659.70,306.3 660.20,306.3 660.70,306.6 661.20,306.5 661.70,306.4 662.20,306.2 662.70,306.3 663.20,306.7 663.70,306.2 664.20,306.6 664.70,306.4 665.20,306.4 665.70,306.4 666.20,306.8 666.70,306.8 667.20,306.5 667.70,306.7 668.20,306.5 668.70,306.7 669.20,306.8 669.70,306.4 670.20,306.6 670.70,306.4 671.20,306.6 671.70,306.3 672.20,306.7 672.70,306.8 673.20,306.3 673.70,306.6 674.20,306.2 674.70,306.2 675.20,306.2 675.70,306.5 676.20,306.7 676.70,306.2 677.20,306.7 677.70,306.4 678.20,306.3 678.70,306.6 679.20,306.6 679.70,306.4 680.20,306.3 680.70,306.4 681.20,306.2 681.70,305.3 682.20,305.1 682.70,304.9 683.20,304.8 683.70,304.7 684.20,305.7 684.70,306.0 685.20,306.4 685.70,306.3 686.20,306.7 686.70,306.6 687.20,306.3 687.70,306.5 688.20,306.2 688.70,306.6 689.20,306.5 689.70,306.4 690.20,306.5 690.70,306.7 691.20,306.3 691.70,306.5 692.20,306.4 692.70,306.7 693.20,306.3 693.70,306.8 694.20,306.6 694.70,306.8 695.20,306.4 695.70,306.4 696.20,306.4 696.70,306.7 697.20,306.3 697.70,306.3 698.20,306.7 698.70,306.7 699.20,306.7 699.70,306.6 700.20,306.4 700.70,306.4 701.20,306.7 701.70,306.3 702.20,306.4 702.70,306.7 703.20,306.7 703.70,306.4 704.20,306.4 704.70,306.8 705.20,306.4 705.70,306.6 706.20,306.8 706.70,306.3 707.20,306.3 707.70,306.6 708.20,306.3 708.70,306.8 709.20,306.5 709.70,306.8 710.20,306.6 710.70,306.4 711.20,306.4 711.70,306.5 712.20,306.5 712.70,306.7 713.20,306.3 713.70,306.3 714.20,306.2 714.70,306.3 715.20,306.1 715.70,305.8 716.20,305.4 716.70,305.6 717.20,305.7 717.70,306.1 718.20,306.0 718.70,306.2 719.20,306.6 719.70,306.2 720.20,306.7 720.70,306.7 721.20,306.7 721.70,306.5 722.20,306.4 722.70,306.4 723.20,306.6 723.70,306.3 724.20,306.8 724.70,306.8 725.20,306.5 725.70,306.7 726.20,306.8 726.70,306.8 727.20,306.8 727.70,306.2 728.20,306.7 728.70,306.8 729.20,306.8 729.70,306.7 730.20,306.4 730.70,306.6 731.20,306.6 731.70,306.4 732.20,306.4 732.70,306.7 733.20,306.7 733.70,306.4 734.20,306.5 734.70,306.5 735.20,306.9 735.70,306.7 736.20,306.4 736.70,306.4 737.20,306.8 737.70,306.6 738.20,306.6 738.70,306.6 739.20,306.4 739.70,306.3 740.20,306.6 740.70,306.4 741.20,306.8 741.70,306.6 742.20,306.5 742.70,306.8 743.20,306.7 743.70,306.7 744.20,306.7 744.70,306.7 745.20,306.7 745.70,306.5 746.20,306.6 746.70,306.4 747.20,306.8 747.70,306.5 748.20,306.5 748.70,306.7 749.20,306.3 749.70,306.3 750.20,306.8 750.70,306.4 751.20,306.6 751.70,306.5 752.20,306.5 752.70,306.4 753.20,306.7 753.70,306.3 754.20,306.4 754.70,306.8 755.20,306.7 755.70,306.6 756.20,306.4 756.70,306.3 757.20,306.4 757.70,306.8 758.20,306.9 758.70,306.5 759.20,306.7 759.70,306.5 760.20,306.8 760.70,306.5 761.20,306.8 761.70,306.3 762.20,306.8 762.70,306.5 763.20,306.9 763.70,306.4 764.20,306.4 764.70,306.6 765.20,306.6 765.70,306.4 766.20,306.4 766.70,306.5 767.20,306.8 767.70,306.6 768.20,306.7 768.70,306.4 769.20,306.6 769.70,306.3 770.20,306.3 770.70,306.3 771.20,306.4 771.70,306.8 772.20,306.8 772.70,306.6 773.20,306.5 773.70,306.5 774.20,306.8 774.70,306.7 775.20,306.6 775.70,306.7 776.20,306.6 776.70,306.9 777.20,306.4 777.70,306.7 778.20,306.3 778.70,306.8 779.20,306.8 779.70,306.9 780.20,306.4 780.70,306.7 781.20,306.5 781.70,306.6 782.20,306.7 782.70,306.5 783.20,306.9 783.70,306.4 784.20,306.5" fill="none" stroke="#000000" stroke-width="2.00" stroke-linejoin="round" stroke-linecap="butt"/>
<rect x="73.00" y="140.60" width="8.60" height="8.60" fill="#000"/>
<rect x="101.00" y="140.60" width="8.60" height="8.60" fill="#000"/>
<rect x="112.60" y="140.60" width="8.60" height="8.60" fill="#000"/>
<circle cx="169.30" cy="144.90" r="4.60" fill="#000"/>
<circle cx="285.00" cy="144.90" r="4.60" fill="#000"/>
<circle cx="382.80" cy="144.90" r="4.60" fill="#000"/>
<polygon points="105.00,149.40 109.10,155.30 105.00,161.20 100.90,155.30" fill="#000"/>
<polygon points="118.40,149.40 122.50,155.30 118.40,161.20 114.30,155.30" fill="#000"/>
<polygon points="131.80,149.40 135.90,155.30 131.80,161.20 127.70,155.30" fill="#000"/>
<polygon points="198.40,149.40 202.50,155.30 198.40,161.20 194.30,155.30" fill="#000"/>
<polygon points="255.80,149.40 259.90,155.30 255.80,161.20 251.70,155.30" fill="#000"/>
<polygon points="290.00,149.40 294.10,155.30 290.00,161.20 285.90,155.30" fill="#000"/>
<polygon points="323.00,149.40 327.10,155.30 323.00,161.20 318.90,155.30" fill="#000"/>
<polygon points="331.30,149.40 335.40,155.30 331.30,161.20 327.20,155.30" fill="#000"/>
<polygon points="107.90,130.66 108.82,133.49 111.80,133.49 109.39,135.24 110.31,138.08 107.90,136.33 105.49,138.08 106.41,135.24 104.00,133.49 106.98,133.49" fill="#000" stroke="#000" stroke-width="1.2" stroke-linejoin="round"/>
<polygon points="126.90,130.66 127.82,133.49 130.80,133.49 128.39,135.24 129.31,138.08 126.90,136.33 124.49,138.08 125.41,135.24 123.00,133.49 125.98,133.49" fill="#000" stroke="#000" stroke-width="1.2" stroke-linejoin="round"/>
<polygon points="169.40,130.66 170.32,133.49 173.30,133.49 170.89,135.24 171.81,138.08 169.40,136.33 166.99,138.08 167.91,135.24 165.50,133.49 168.48,133.49" fill="#000" stroke="#000" stroke-width="1.2" stroke-linejoin="round"/>
<polygon points="192.60,130.66 193.52,133.49 196.50,133.49 194.09,135.24 195.01,138.08 192.60,136.33 190.19,138.08 191.11,135.24 188.70,133.49 191.68,133.49" fill="#000" stroke="#000" stroke-width="1.2" stroke-linejoin="round"/>
<polygon points="234.70,130.66 235.62,133.49 238.60,133.49 236.19,135.24 237.11,138.08 234.70,136.33 232.29,138.08 233.21,135.24 230.80,133.49 233.78,133.49" fill="#000" stroke="#000" stroke-width="1.2" stroke-linejoin="round"/>
<polygon points="333.40,130.66 334.32,133.49 337.30,133.49 334.89,135.24 335.81,138.08 333.40,136.33 330.99,138.08 331.91,135.24 329.50,133.49 332.48,133.49" fill="#000" stroke="#000" stroke-width="1.2" stroke-linejoin="round"/>
<rect x="467.10" y="140.60" width="8.60" height="8.60" fill="#000"/>
<rect x="495.10" y="140.60" width="8.60" height="8.60" fill="#000"/>
<rect x="506.70" y="140.60" width="8.60" height="8.60" fill="#000"/>
<circle cx="563.40" cy="144.90" r="4.60" fill="#000"/>
<circle cx="679.10" cy="144.90" r="4.60" fill="#000"/>
<circle cx="776.90" cy="144.90" r="4.60" fill="#000"/>
<polygon points="499.10,149.40 503.20,155.30 499.10,161.20 495.00,155.30" fill="#000"/>
<polygon points="512.50,149.40 516.60,155.30 512.50,161.20 508.40,155.30" fill="#000"/>
<polygon points="525.90,149.40 530.00,155.30 525.90,161.20 521.80,155.30" fill="#000"/>
<polygon points="592.50,149.40 596.60,155.30 592.50,161.20 588.40,155.30" fill="#000"/>
<polygon points="649.90,149.40 654.00,155.30 649.90,161.20 645.80,155.30" fill="#000"/>
<polygon points="684.10,149.40 688.20,155.30 684.10,161.20 680.00,155.30" fill="#000"/>
<polygon points="717.10,149.40 721.20,155.30 717.10,161.20 713.00,155.30" fill="#000"/>
<polygon points="725.40,149.40 729.50,155.30 725.40,161.20 721.30,155.30" fill="#000"/>
<polygon points="502.00,130.66 502.92,133.49 505.90,133.49 503.49,135.24 504.41,138.08 502.00,136.33 499.59,138.08 500.51,135.24 498.10,133.49 501.08,133.49" fill="#000" stroke="#000" stroke-width="1.2" stroke-linejoin="round"/>
<polygon points="521.00,130.66 521.92,133.49 524.90,133.49 522.49,135.24 523.41,138.08 521.00,136.33 518.59,138.08 519.51,135.24 517.10,133.49 520.08,133.49" fill="#000" stroke="#000" stroke-width="1.2" stroke-linejoin="round"/>
<polygon points="563.50,130.66 564.42,133.49 567.40,133.49 564.99,135.24 565.91,138.08 563.50,136.33 561.09,138.08 562.01,135.24 559.60,133.49 562.58,133.49" fill="#000" stroke="#000" stroke-width="1.2" stroke-linejoin="round"/>
<polygon points="586.70,130.66 587.62,133.49 590.60,133.49 588.19,135.24 589.11,138.08 586.70,136.33 584.29,138.08 585.21,135.24 582.80,133.49 585.78,133.49" fill="#000" stroke="#000" stroke-width="1.2" stroke-linejoin="round"/>
<polygon points="628.80,130.66 629.72,133.49 632.70,133.49 630.29,135.24 631.21,138.08 628.80,136.33 626.39,138.08 627.31,135.24 624.90,133.49 627.88,133.49" fill="#000" stroke="#000" stroke-width="1.2" stroke-linejoin="round"/>
<polygon points="727.50,130.66 728.42,133.49 731.40,133.49 728.99,135.24 729.91,138.08 727.50,136.33 725.09,138.08 726.01,135.24 723.60,133.49 726.58,133.49" fill="#000" stroke="#000" stroke-width="1.2" stroke-linejoin="round"/>
<text x="41.5" y="171.7" class="cl" style="fill:#FFA500">4w</text>
<text x="41.5" y="194.1" class="cl" style="fill:#1E90FF">3w</text>
<text x="41.5" y="239.9" class="cl" style="fill:#FF0000">2w</text>
<text x="41.5" y="269.4" class="cl" style="fill:#008000">1<tspan dx="-0.8">w</tspan></text>
<text x="41.5" y="294.0" class="cl" style="fill:#000000">ref</text>
<text x="439.6" y="208.8" class="cl" style="fill:#FFA500">4w</text>
<text x="439.6" y="254.7" class="cl" style="fill:#1E90FF">3w</text>
<text x="439.6" y="274.2" class="cl" style="fill:#FF0000">2w</text>
<text x="439.6" y="288.6" class="cl" style="fill:#008000">1<tspan dx="-0.8">w</tspan></text>
<text x="439.6" y="301.0" class="cl" style="fill:#000000">ref</text>
</svg>
</body></html>
